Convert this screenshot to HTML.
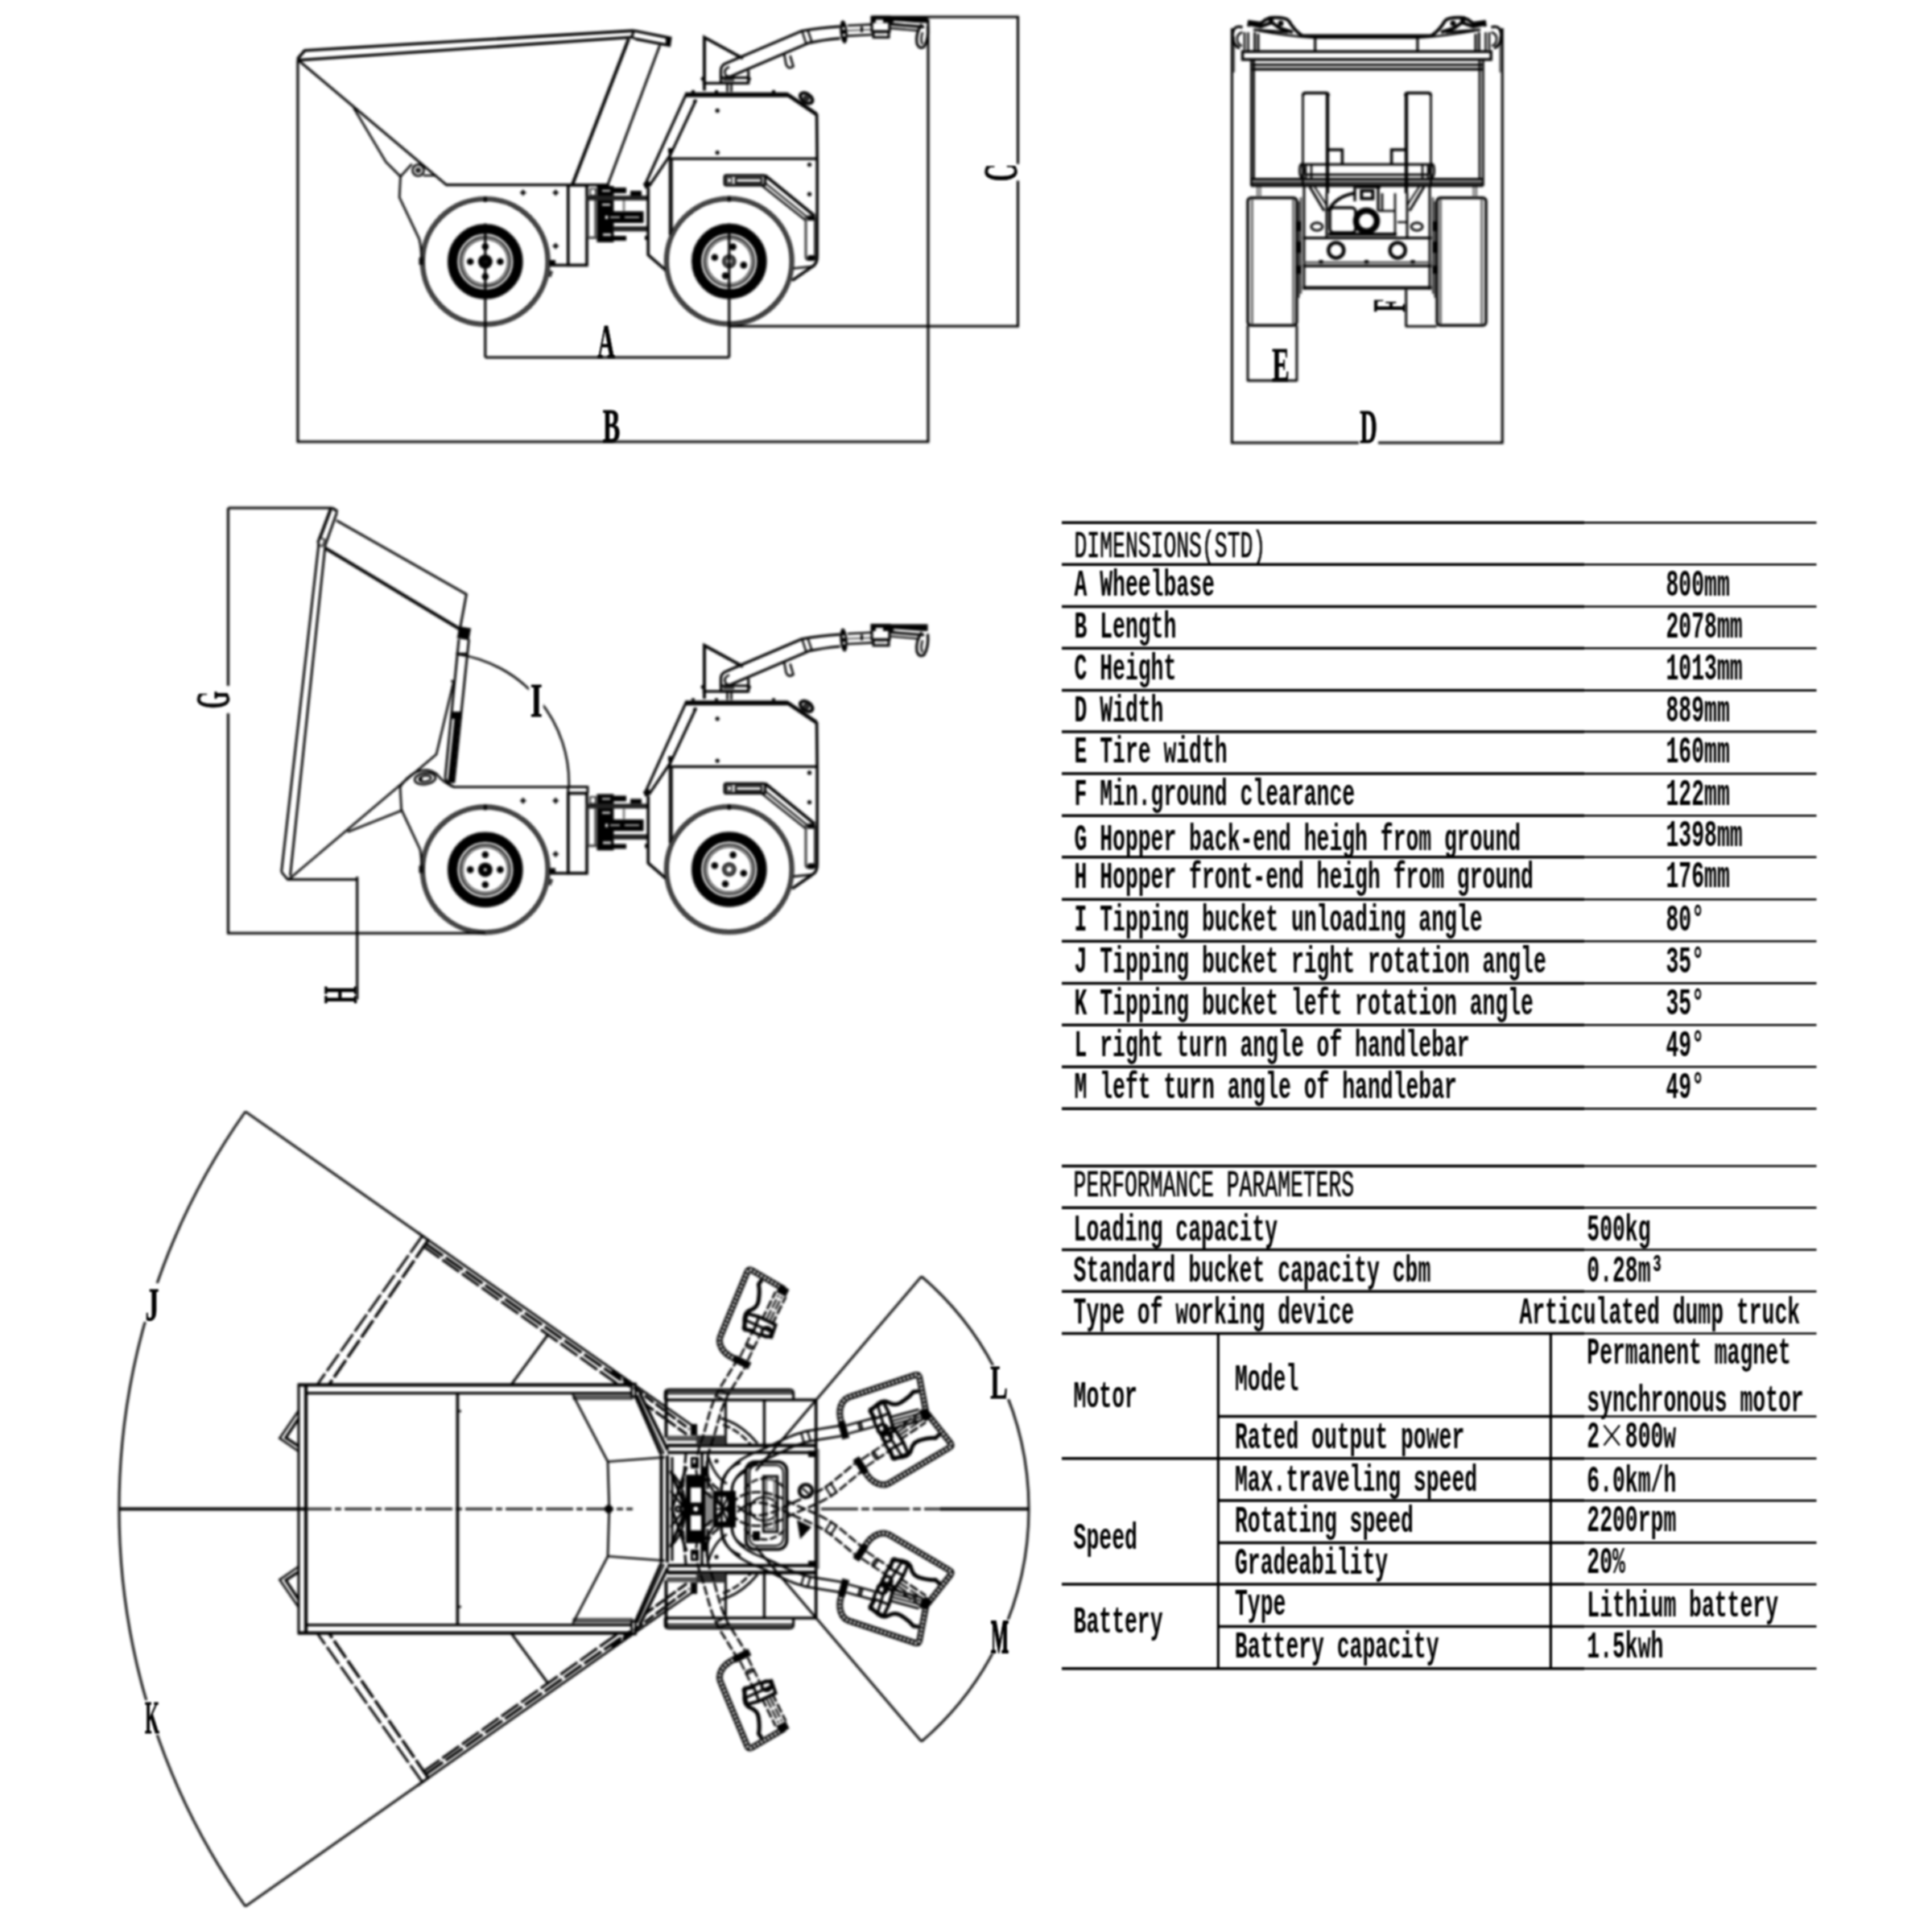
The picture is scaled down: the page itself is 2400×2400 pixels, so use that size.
<!DOCTYPE html>
<html><head><meta charset="utf-8"><title>Mini dumper dimensions</title>
<style>html,body{margin:0;padding:0;background:#fff}svg{display:block}text{fill:#000}</style></head>
<body>
<svg width="2400" height="2400" viewBox="0 0 2400 2400" stroke-linecap="butt" stroke-linejoin="miter">
<rect x="0" y="0" width="2400" height="2400" fill="#fff"/>
<g style="filter:blur(1px)">
<line x1="1319.0" y1="649.2" x2="1968.0" y2="649.2" stroke="#000" stroke-width="3.5" />
<line x1="1968.0" y1="649.2" x2="2256.5" y2="649.2" stroke="#000" stroke-width="2.6" />
<line x1="1319.0" y1="701.3" x2="1968.0" y2="701.3" stroke="#000" stroke-width="3.5" />
<line x1="1968.0" y1="701.3" x2="2256.5" y2="701.3" stroke="#000" stroke-width="2.6" />
<line x1="1319.0" y1="753.5" x2="1968.0" y2="753.5" stroke="#000" stroke-width="3.5" />
<line x1="1968.0" y1="753.5" x2="2256.5" y2="753.5" stroke="#000" stroke-width="2.6" />
<line x1="1319.0" y1="805.3" x2="1968.0" y2="805.3" stroke="#000" stroke-width="3.5" />
<line x1="1968.0" y1="805.3" x2="2256.5" y2="805.3" stroke="#000" stroke-width="2.6" />
<line x1="1319.0" y1="857.6" x2="1968.0" y2="857.6" stroke="#000" stroke-width="3.5" />
<line x1="1968.0" y1="857.6" x2="2256.5" y2="857.6" stroke="#000" stroke-width="2.6" />
<line x1="1319.0" y1="908.9" x2="1968.0" y2="908.9" stroke="#000" stroke-width="3.5" />
<line x1="1968.0" y1="908.9" x2="2256.5" y2="908.9" stroke="#000" stroke-width="2.6" />
<line x1="1319.0" y1="961.1" x2="1968.0" y2="961.1" stroke="#000" stroke-width="3.5" />
<line x1="1968.0" y1="961.1" x2="2256.5" y2="961.1" stroke="#000" stroke-width="2.6" />
<line x1="1319.0" y1="1013.3" x2="1968.0" y2="1013.3" stroke="#000" stroke-width="3.5" />
<line x1="1968.0" y1="1013.3" x2="2256.5" y2="1013.3" stroke="#000" stroke-width="2.6" />
<line x1="1319.0" y1="1064.8" x2="1968.0" y2="1064.8" stroke="#000" stroke-width="3.5" />
<line x1="1968.0" y1="1064.8" x2="2256.5" y2="1064.8" stroke="#000" stroke-width="2.6" />
<line x1="1319.0" y1="1117.3" x2="1968.0" y2="1117.3" stroke="#000" stroke-width="3.5" />
<line x1="1968.0" y1="1117.3" x2="2256.5" y2="1117.3" stroke="#000" stroke-width="2.6" />
<line x1="1319.0" y1="1169.2" x2="1968.0" y2="1169.2" stroke="#000" stroke-width="3.5" />
<line x1="1968.0" y1="1169.2" x2="2256.5" y2="1169.2" stroke="#000" stroke-width="2.6" />
<line x1="1319.0" y1="1221.4" x2="1968.0" y2="1221.4" stroke="#000" stroke-width="3.5" />
<line x1="1968.0" y1="1221.4" x2="2256.5" y2="1221.4" stroke="#000" stroke-width="2.6" />
<line x1="1319.0" y1="1273.3" x2="1968.0" y2="1273.3" stroke="#000" stroke-width="3.5" />
<line x1="1968.0" y1="1273.3" x2="2256.5" y2="1273.3" stroke="#000" stroke-width="2.6" />
<line x1="1319.0" y1="1325.2" x2="1968.0" y2="1325.2" stroke="#000" stroke-width="3.5" />
<line x1="1968.0" y1="1325.2" x2="2256.5" y2="1325.2" stroke="#000" stroke-width="2.6" />
<line x1="1319.0" y1="1377.3" x2="1968.0" y2="1377.3" stroke="#000" stroke-width="3.5" />
<line x1="1968.0" y1="1377.3" x2="2256.5" y2="1377.3" stroke="#000" stroke-width="2.6" />
<text transform="translate(1334.5,692.0) scale(0.5716,1)" font-family="Liberation Mono" font-size="46.21" font-weight="normal" text-anchor="start" xml:space="preserve" stroke="#000" stroke-width="0.7">DIMENSIONS(STD)</text>
<text transform="translate(1334.5,739.8) scale(0.5716,1)" font-family="Liberation Mono" font-size="46.21" font-weight="bold" text-anchor="start" xml:space="preserve" >A Wheelbase</text>
<text transform="translate(2069.5,739.8) scale(0.5716,1)" font-family="Liberation Mono" font-size="46.21" font-weight="bold" text-anchor="start" xml:space="preserve" >800mm</text>
<text transform="translate(1334.5,792.0) scale(0.5716,1)" font-family="Liberation Mono" font-size="46.21" font-weight="bold" text-anchor="start" xml:space="preserve" >B Length</text>
<text transform="translate(2069.5,792.0) scale(0.5716,1)" font-family="Liberation Mono" font-size="46.21" font-weight="bold" text-anchor="start" xml:space="preserve" >2078mm</text>
<text transform="translate(1334.5,843.8) scale(0.5716,1)" font-family="Liberation Mono" font-size="46.21" font-weight="bold" text-anchor="start" xml:space="preserve" >C Height</text>
<text transform="translate(2069.5,843.8) scale(0.5716,1)" font-family="Liberation Mono" font-size="46.21" font-weight="bold" text-anchor="start" xml:space="preserve" >1013mm</text>
<text transform="translate(1334.5,896.1) scale(0.5716,1)" font-family="Liberation Mono" font-size="46.21" font-weight="bold" text-anchor="start" xml:space="preserve" >D Width</text>
<text transform="translate(2069.5,896.1) scale(0.5716,1)" font-family="Liberation Mono" font-size="46.21" font-weight="bold" text-anchor="start" xml:space="preserve" >889mm</text>
<text transform="translate(1334.5,947.4) scale(0.5716,1)" font-family="Liberation Mono" font-size="46.21" font-weight="bold" text-anchor="start" xml:space="preserve" >E Tire width</text>
<text transform="translate(2069.5,947.4) scale(0.5716,1)" font-family="Liberation Mono" font-size="46.21" font-weight="bold" text-anchor="start" xml:space="preserve" >160mm</text>
<text transform="translate(1334.5,999.6) scale(0.5716,1)" font-family="Liberation Mono" font-size="46.21" font-weight="bold" text-anchor="start" xml:space="preserve" >F Min.ground clearance</text>
<text transform="translate(2069.5,999.6) scale(0.5716,1)" font-family="Liberation Mono" font-size="46.21" font-weight="bold" text-anchor="start" xml:space="preserve" >122mm</text>
<text transform="translate(1334.5,1055.8) scale(0.5716,1)" font-family="Liberation Mono" font-size="46.21" font-weight="bold" text-anchor="start" xml:space="preserve" >G Hopper back-end heigh from ground</text>
<text transform="translate(2069.5,1050.8) scale(0.5716,1)" font-family="Liberation Mono" font-size="46.21" font-weight="bold" text-anchor="start" xml:space="preserve" >1398mm</text>
<text transform="translate(1334.5,1103.0) scale(0.5716,1)" font-family="Liberation Mono" font-size="46.21" font-weight="bold" text-anchor="start" xml:space="preserve" >H Hopper front-end heigh from ground</text>
<text transform="translate(2069.5,1102.3) scale(0.5716,1)" font-family="Liberation Mono" font-size="46.21" font-weight="bold" text-anchor="start" xml:space="preserve" >176mm</text>
<text transform="translate(1334.5,1155.8) scale(0.5716,1)" font-family="Liberation Mono" font-size="46.21" font-weight="bold" text-anchor="start" xml:space="preserve" >I Tipping bucket unloading angle</text>
<text transform="translate(2069.5,1155.8) scale(0.5716,1)" font-family="Liberation Mono" font-size="46.21" font-weight="bold" text-anchor="start" xml:space="preserve" >80°</text>
<text transform="translate(1334.5,1207.7) scale(0.5716,1)" font-family="Liberation Mono" font-size="46.21" font-weight="bold" text-anchor="start" xml:space="preserve" >J Tipping bucket right rotation angle</text>
<text transform="translate(2069.5,1207.7) scale(0.5716,1)" font-family="Liberation Mono" font-size="46.21" font-weight="bold" text-anchor="start" xml:space="preserve" >35°</text>
<text transform="translate(1334.5,1259.9) scale(0.5716,1)" font-family="Liberation Mono" font-size="46.21" font-weight="bold" text-anchor="start" xml:space="preserve" >K Tipping bucket left rotation angle</text>
<text transform="translate(2069.5,1259.9) scale(0.5716,1)" font-family="Liberation Mono" font-size="46.21" font-weight="bold" text-anchor="start" xml:space="preserve" >35°</text>
<text transform="translate(1334.5,1311.8) scale(0.5716,1)" font-family="Liberation Mono" font-size="46.21" font-weight="bold" text-anchor="start" xml:space="preserve" >L right turn angle of handlebar</text>
<text transform="translate(2069.5,1311.8) scale(0.5716,1)" font-family="Liberation Mono" font-size="46.21" font-weight="bold" text-anchor="start" xml:space="preserve" >49°</text>
<text transform="translate(1334.5,1363.7) scale(0.5716,1)" font-family="Liberation Mono" font-size="46.21" font-weight="bold" text-anchor="start" xml:space="preserve" >M left turn angle of handlebar</text>
<text transform="translate(2069.5,1363.7) scale(0.5716,1)" font-family="Liberation Mono" font-size="46.21" font-weight="bold" text-anchor="start" xml:space="preserve" >49°</text>
<line x1="1319.0" y1="1448.5" x2="1968.0" y2="1448.5" stroke="#000" stroke-width="3.5" />
<line x1="1968.0" y1="1448.5" x2="2256.5" y2="1448.5" stroke="#000" stroke-width="2.6" />
<line x1="1319.0" y1="1500.2" x2="1968.0" y2="1500.2" stroke="#000" stroke-width="3.5" />
<line x1="1968.0" y1="1500.2" x2="2256.5" y2="1500.2" stroke="#000" stroke-width="2.6" />
<line x1="1319.0" y1="1552.5" x2="1968.0" y2="1552.5" stroke="#000" stroke-width="3.5" />
<line x1="1968.0" y1="1552.5" x2="2256.5" y2="1552.5" stroke="#000" stroke-width="2.6" />
<line x1="1319.0" y1="1604.3" x2="1968.0" y2="1604.3" stroke="#000" stroke-width="3.5" />
<line x1="1968.0" y1="1604.3" x2="2256.5" y2="1604.3" stroke="#000" stroke-width="2.6" />
<line x1="1319.0" y1="1656.5" x2="1968.0" y2="1656.5" stroke="#000" stroke-width="3.5" />
<line x1="1968.0" y1="1656.5" x2="2256.5" y2="1656.5" stroke="#000" stroke-width="2.6" />
<line x1="1513.3" y1="1759.5" x2="1968.0" y2="1759.5" stroke="#000" stroke-width="3.5" />
<line x1="1968.0" y1="1759.5" x2="2256.5" y2="1759.5" stroke="#000" stroke-width="2.6" />
<line x1="1319.0" y1="1811.8" x2="1968.0" y2="1811.8" stroke="#000" stroke-width="3.5" />
<line x1="1968.0" y1="1811.8" x2="2256.5" y2="1811.8" stroke="#000" stroke-width="2.6" />
<line x1="1513.3" y1="1864.1" x2="1968.0" y2="1864.1" stroke="#000" stroke-width="3.5" />
<line x1="1968.0" y1="1864.1" x2="2256.5" y2="1864.1" stroke="#000" stroke-width="2.6" />
<line x1="1513.3" y1="1916.4" x2="1968.0" y2="1916.4" stroke="#000" stroke-width="3.5" />
<line x1="1968.0" y1="1916.4" x2="2256.5" y2="1916.4" stroke="#000" stroke-width="2.6" />
<line x1="1319.0" y1="1968.1" x2="1968.0" y2="1968.1" stroke="#000" stroke-width="3.5" />
<line x1="1968.0" y1="1968.1" x2="2256.5" y2="1968.1" stroke="#000" stroke-width="2.6" />
<line x1="1513.3" y1="2020.4" x2="1968.0" y2="2020.4" stroke="#000" stroke-width="3.5" />
<line x1="1968.0" y1="2020.4" x2="2256.5" y2="2020.4" stroke="#000" stroke-width="2.6" />
<line x1="1319.0" y1="2072.7" x2="1968.0" y2="2072.7" stroke="#000" stroke-width="3.5" />
<line x1="1968.0" y1="2072.7" x2="2256.5" y2="2072.7" stroke="#000" stroke-width="2.6" />
<line x1="1513.3" y1="1656.5" x2="1513.3" y2="2072.7" stroke="#000" stroke-width="3.2" />
<line x1="1926.4" y1="1656.5" x2="1926.4" y2="2072.7" stroke="#000" stroke-width="3.2" />
<text transform="translate(1333.6,1485.9) scale(0.5716,1)" font-family="Liberation Mono" font-size="46.21" font-weight="normal" text-anchor="start" xml:space="preserve" stroke="#000" stroke-width="0.7">PERFORMANCE PARAMETERS</text>
<text transform="translate(1333.6,1541.2) scale(0.5716,1)" font-family="Liberation Mono" font-size="46.21" font-weight="bold" text-anchor="start" xml:space="preserve" >Loading capacity</text>
<text transform="translate(1971.3,1541.2) scale(0.5716,1)" font-family="Liberation Mono" font-size="46.21" font-weight="bold" text-anchor="start" xml:space="preserve" >500kg</text>
<text transform="translate(1333.6,1592.0) scale(0.5716,1)" font-family="Liberation Mono" font-size="46.21" font-weight="bold" text-anchor="start" xml:space="preserve" >Standard bucket capacity cbm</text>
<text transform="translate(1971.3,1592.0) scale(0.5716,1)" font-family="Liberation Mono" font-size="46.21" font-weight="bold" text-anchor="start" xml:space="preserve" >0.28m³</text>
<text transform="translate(1333.6,1643.8) scale(0.5716,1)" font-family="Liberation Mono" font-size="46.21" font-weight="bold" text-anchor="start" xml:space="preserve" >Type of working device</text>
<text transform="translate(1887.5,1643.8) scale(0.5716,1)" font-family="Liberation Mono" font-size="46.21" font-weight="bold" text-anchor="start" xml:space="preserve" >Articulated dump truck</text>
<text transform="translate(1333.6,1748.3) scale(0.5716,1)" font-family="Liberation Mono" font-size="46.21" font-weight="bold" text-anchor="start" xml:space="preserve" >Motor</text>
<text transform="translate(1534.0,1726.6) scale(0.5716,1)" font-family="Liberation Mono" font-size="46.21" font-weight="bold" text-anchor="start" xml:space="preserve" >Model</text>
<text transform="translate(1971.3,1694.0) scale(0.5716,1)" font-family="Liberation Mono" font-size="46.21" font-weight="bold" text-anchor="start" xml:space="preserve" >Permanent magnet</text>
<text transform="translate(1971.3,1752.5) scale(0.5716,1)" font-family="Liberation Mono" font-size="46.21" font-weight="bold" text-anchor="start" xml:space="preserve" >synchronous motor</text>
<text transform="translate(1534.0,1799.0) scale(0.5716,1)" font-family="Liberation Mono" font-size="46.21" font-weight="bold" text-anchor="start" xml:space="preserve" >Rated output power</text>
<text transform="translate(1971.3,1797.7) scale(0.5716,1)" font-family="Liberation Mono" font-size="46.21" font-weight="bold" text-anchor="start" xml:space="preserve" >2</text>
<text transform="translate(2018.8,1797.7) scale(0.5716,1)" font-family="Liberation Mono" font-size="46.21" font-weight="bold" text-anchor="start" xml:space="preserve" >800w</text>
<line x1="1992.5" y1="1770.5" x2="2012.0" y2="1795.5" stroke="#000" stroke-width="2.2" />
<line x1="2012.0" y1="1770.5" x2="1992.5" y2="1795.5" stroke="#000" stroke-width="2.2" />
<text transform="translate(1534.0,1851.8) scale(0.5716,1)" font-family="Liberation Mono" font-size="46.21" font-weight="bold" text-anchor="start" xml:space="preserve" >Max.traveling speed</text>
<text transform="translate(1971.3,1853.2) scale(0.5716,1)" font-family="Liberation Mono" font-size="46.21" font-weight="bold" text-anchor="start" xml:space="preserve" >6.0km/h</text>
<text transform="translate(1534.0,1902.6) scale(0.5716,1)" font-family="Liberation Mono" font-size="46.21" font-weight="bold" text-anchor="start" xml:space="preserve" >Rotating speed</text>
<text transform="translate(1971.3,1901.7) scale(0.5716,1)" font-family="Liberation Mono" font-size="46.21" font-weight="bold" text-anchor="start" xml:space="preserve" >2200rpm</text>
<text transform="translate(1333.6,1924.3) scale(0.5716,1)" font-family="Liberation Mono" font-size="46.21" font-weight="bold" text-anchor="start" xml:space="preserve" >Speed</text>
<text transform="translate(1534.0,1955.4) scale(0.5716,1)" font-family="Liberation Mono" font-size="46.21" font-weight="bold" text-anchor="start" xml:space="preserve" >Gradeability</text>
<text transform="translate(1971.3,1954.2) scale(0.5716,1)" font-family="Liberation Mono" font-size="46.21" font-weight="bold" text-anchor="start" xml:space="preserve" >20%</text>
<text transform="translate(1534.0,2006.1) scale(0.5716,1)" font-family="Liberation Mono" font-size="46.21" font-weight="bold" text-anchor="start" xml:space="preserve" >Type</text>
<text transform="translate(1971.3,2007.7) scale(0.5716,1)" font-family="Liberation Mono" font-size="46.21" font-weight="bold" text-anchor="start" xml:space="preserve" >Lithium battery</text>
<text transform="translate(1333.6,2027.8) scale(0.5716,1)" font-family="Liberation Mono" font-size="46.21" font-weight="bold" text-anchor="start" xml:space="preserve" >Battery</text>
<text transform="translate(1534.0,2058.9) scale(0.5716,1)" font-family="Liberation Mono" font-size="46.21" font-weight="bold" text-anchor="start" xml:space="preserve" >Battery capacity</text>
<text transform="translate(1971.3,2058.9) scale(0.5716,1)" font-family="Liberation Mono" font-size="46.21" font-weight="bold" text-anchor="start" xml:space="preserve" >1.5kwh</text>
</g>
<g style="filter:blur(1.5px)">
<rect x="705.8" y="230.0" width="23.2" height="99.4" rx="0" stroke="#000" stroke-width="3.65" fill="none" />
<line x1="683.0" y1="329.4" x2="706.0" y2="329.4" stroke="#000" stroke-width="3.45" />
<rect x="741.4" y="231" width="21" height="70" fill="#000"/>
<rect x="728" y="243" width="77" height="6" fill="#222"/>
<rect x="762" y="281" width="43" height="6.5" fill="#222"/>
<rect x="748" y="262.5" width="51.5" height="14.5" fill="#000"/>
<rect x="762" y="233" width="16" height="7" fill="#000"/>
<rect x="783" y="237" width="14" height="6" fill="#000"/>
<rect x="762" y="293" width="16" height="6" fill="#000"/>
<rect x="733.3" y="234.5" width="6.5" height="8.5" fill="#fff" stroke="#000" stroke-width="1.5"/>
<line x1="730.6" y1="249.0" x2="730.6" y2="295.3" stroke="#444" stroke-width="2.45" />
<line x1="739.5" y1="249.0" x2="739.5" y2="295.3" stroke="#444" stroke-width="2.45" />
<line x1="730.0" y1="295.3" x2="742.0" y2="295.3" stroke="#444" stroke-width="3.05" />
<rect x="752" y="268" width="3" height="4" fill="#fff"/>
<rect x="758" y="269" width="12" height="1.6" fill="#ddd"/>
<rect x="776" y="269" width="18" height="1.6" fill="#ddd"/>
<rect x="748" y="236" width="10" height="2" fill="#ddd"/>
<rect x="748" y="253" width="10" height="2.5" fill="#ddd"/>
<rect x="749" y="290" width="10" height="3" fill="#ddd"/>
<line x1="775.0" y1="249.0" x2="775.0" y2="262.0" stroke="#666" stroke-width="2.35" />
<path d="M805.2,233.0 L805.2,316.7 L829.0,337.5" stroke="#000" stroke-width="3.65" fill="none" />
<rect x="800" y="226" width="8" height="7" fill="#000" transform="rotate(-25 804 230)"/>
<rect x="801" y="293" width="4" height="5" fill="#000"/>
<line x1="852.7" y1="116.3" x2="801.5" y2="229.0" stroke="#000" stroke-width="3.25" />
<path d="M864.8,123.8 L833.1,191.8 L806.5,231.0" stroke="#000" stroke-width="3.25" fill="none" />
<line x1="851.0" y1="117.8" x2="978.5" y2="117.8" stroke="#000" stroke-width="6" />
<path d="M977.5,117.0 L1014.0,141.8" stroke="#000" stroke-width="4.85" fill="none" />
<path d="M1014.6,141 L1015.2,200 L1015.2,318 Q1015.5,328 1008.5,331.5 L984,348.5" stroke="#000" stroke-width="3.65" fill="none" />
<line x1="985.0" y1="333.5" x2="1009.0" y2="331.0" stroke="#000" stroke-width="2.65" />
<line x1="833.1" y1="197.0" x2="1015.0" y2="197.0" stroke="#000" stroke-width="3.25" />
<line x1="832.2" y1="187.0" x2="832.2" y2="292.0" stroke="#000" stroke-width="2.85" />
<line x1="834.6" y1="197.0" x2="834.6" y2="290.0" stroke="#000" stroke-width="2.25" />
<rect x="830" y="184" width="5.5" height="6" fill="#000"/>
<rect x="900.2" y="217.9" width="50.3" height="12.1" rx="2" stroke="#000" stroke-width="3.25" fill="none" />
<rect x="914.0" y="221.3" width="32.0" height="5.7" rx="0" stroke="#000" stroke-width="2.45" fill="none" />
<rect x="903" y="221" width="6" height="6" fill="#fff" stroke="#000" stroke-width="1.6"/>
<line x1="950.5" y1="217.9" x2="1012.0" y2="268.2" stroke="#000" stroke-width="3.85" />
<line x1="945.8" y1="230.0" x2="1000.8" y2="273.8" stroke="#000" stroke-width="2.45" />
<line x1="949.0" y1="226.0" x2="1004.0" y2="270.5" stroke="#000" stroke-width="2.25" />
<rect x="1001.0" y="269.0" width="11.4" height="53.5" rx="3" stroke="#333" stroke-width="2.85" fill="none" />
<rect x="1003" y="268" width="9" height="6" fill="#000"/>
<rect x="1003" y="317" width="10" height="7" fill="#000" rx="3"/>
<circle cx="891.2" cy="137.4" r="2.6" stroke="#000" stroke-width="0" fill="#000" />
<circle cx="891.2" cy="189.6" r="2.6" stroke="#000" stroke-width="0" fill="#000" />
<circle cx="1005.5" cy="204.5" r="2.6" stroke="#000" stroke-width="0" fill="#000" />
<circle cx="1005.5" cy="241.2" r="2.6" stroke="#000" stroke-width="0" fill="#000" />
<rect x="859" y="112" width="4" height="3" fill="#000"/>
<rect x="888" y="112" width="4" height="3" fill="#000"/>
<rect x="959" y="112" width="4" height="3" fill="#000"/>
<circle cx="863.0" cy="126.0" r="2.2" stroke="#000" stroke-width="0" fill="#000" />
<ellipse cx="1001.7" cy="121.9" rx="8.5" ry="5.2" stroke="#000" stroke-width="4.25" fill="none" transform="rotate(35 1001.7 121.9)" />
<ellipse cx="1001.7" cy="121.9" rx="3.0" ry="1.6" stroke="#000" stroke-width="2.25" fill="none" transform="rotate(35 1001.7 121.9)" />
<path d="M875.0,112.5 L875.0,46.4 L922.9,72.6" stroke="#000" stroke-width="3.85" fill="none" />
<line x1="872.8" y1="103.4" x2="929.7" y2="103.4" stroke="#000" stroke-width="3.25" />
<circle cx="873.0" cy="98.0" r="2.4" stroke="#000" stroke-width="0" fill="#000" />
<rect x="895.5" y="96.5" width="34.2" height="6.9" rx="0" stroke="#000" stroke-width="3.05" fill="none" />
<line x1="929.7" y1="87.4" x2="929.7" y2="103.4" stroke="#000" stroke-width="3.05" />
<circle cx="931.0" cy="98.0" r="2.0" stroke="#000" stroke-width="0" fill="#000" />
<line x1="903.5" y1="103.4" x2="903.5" y2="114.0" stroke="#000" stroke-width="2.65" />
<line x1="908.5" y1="103.4" x2="908.5" y2="114.0" stroke="#000" stroke-width="2.65" />
<rect x="898" y="97.5" width="14" height="3.2" fill="#333"/>
<path d="M895.5,97 L895.5,87.5 Q895.5,81.5 901,79 L995.8,38.5 Q1018,34.5 1043.6,32.8" stroke="#000" stroke-width="3.25" fill="none" />
<path d="M909.2,94.3 L1004.9,53.3 Q1022,49.5 1043.6,47.6" stroke="#000" stroke-width="3.25" fill="none" />
<path d="M909.2,94.3 Q902,97 900.5,91 Q899.5,85.5 906,83" stroke="#000" stroke-width="2.65" fill="none" />
<line x1="996.5" y1="38.8" x2="1001.5" y2="54.5" stroke="#000" stroke-width="2.45" />
<line x1="1003.5" y1="37.5" x2="1008.5" y2="52.5" stroke="#000" stroke-width="2.45" />
<path d="M974,66 L976.5,80 Q979.5,87 985.5,82.5 L981.5,69" stroke="#000" stroke-width="2.65" fill="none" />
<ellipse cx="1048.1" cy="39.6" rx="4.6" ry="14.5" stroke="#000" stroke-width="0" fill="#000" transform="rotate(-5 1048.1 39.6)" />
<rect x="1046.5" y="34" width="3" height="3" fill="#fff"/><rect x="1047" y="42" width="3" height="3" fill="#fff"/>
<line x1="1053.0" y1="31.8" x2="1083.0" y2="30.4" stroke="#000" stroke-width="2.65" />
<line x1="1053.0" y1="44.6" x2="1085.0" y2="43.0" stroke="#000" stroke-width="2.65" />
<line x1="1053.0" y1="38.0" x2="1083.0" y2="36.8" stroke="#555" stroke-width="2.05" />
<rect x="1069" y="33" width="3" height="7" fill="#000"/>
<rect x="1084" y="20" width="68.5" height="8.5" fill="#000"/>
<rect x="1083.0" y="21.0" width="22.0" height="18.0" rx="0" stroke="#000" stroke-width="3.05" fill="none" />
<rect x="1088" y="24.5" width="9" height="4" fill="#fff"/>
<rect x="1085.0" y="39.6" width="19.0" height="6.8" rx="0" stroke="#000" stroke-width="3.05" fill="none" />
<rect x="1089" y="41.5" width="10" height="2" fill="#ccc"/>
<path d="M1105,30 L1148,33.5" stroke="#000" stroke-width="3.45" fill="none" />
<path d="M1105,35 L1140,38" stroke="#000" stroke-width="2.45" fill="none" />
<path d="M1110,27 L1150,30" stroke="#fff" stroke-width="2.25" fill="none" />
<path d="M1145,30 Q1137,42 1139,54 Q1142,62 1148,58 Q1154,48 1152.5,32" stroke="#000" stroke-width="3.25" fill="none" />
<path d="M1146,40 Q1143,50 1146,55" stroke="#000" stroke-width="2.45" fill="none" />
<circle cx="602.8" cy="325.0" r="79.6" stroke="#000" stroke-width="2.45" fill="none" />
<circle cx="602.8" cy="325.0" r="76.2" stroke="#000" stroke-width="2.45" fill="none" />
<circle cx="602.8" cy="325.0" r="78.0" stroke="#555" stroke-width="3.05" fill="none" />
<circle cx="602.8" cy="325.0" r="40.6" stroke="#000" stroke-width="12.4" fill="none" />
<circle cx="602.8" cy="325.0" r="31.0" stroke="#000" stroke-width="2.15" fill="none" />
<circle cx="602.8" cy="325.0" r="28.0" stroke="#444" stroke-width="1.85" fill="none" />
<circle cx="621.4" cy="325.0" r="4.3" stroke="#000" stroke-width="0" fill="#000" />
<circle cx="602.8" cy="343.6" r="4.3" stroke="#000" stroke-width="0" fill="#000" />
<circle cx="584.2" cy="325.0" r="4.3" stroke="#000" stroke-width="0" fill="#000" />
<circle cx="602.8" cy="306.4" r="4.3" stroke="#000" stroke-width="0" fill="#000" />
<circle cx="602.8" cy="325.0" r="9.0" stroke="#000" stroke-width="0" fill="#000" />
<circle cx="602.8" cy="325.0" r="1.8" stroke="#000" stroke-width="0" fill="#fff" />
<line x1="602.8" y1="244.0" x2="602.8" y2="251.0" stroke="#000" stroke-width="3.85" />
<circle cx="905.8" cy="324.6" r="79.6" stroke="#000" stroke-width="2.45" fill="none" />
<circle cx="905.8" cy="324.6" r="76.2" stroke="#000" stroke-width="2.45" fill="none" />
<circle cx="905.8" cy="324.6" r="78.0" stroke="#555" stroke-width="3.05" fill="none" />
<circle cx="905.8" cy="324.6" r="40.6" stroke="#000" stroke-width="12.4" fill="none" />
<circle cx="905.8" cy="324.6" r="31.0" stroke="#000" stroke-width="2.15" fill="none" />
<circle cx="905.8" cy="324.6" r="28.0" stroke="#444" stroke-width="1.85" fill="none" />
<circle cx="923.8" cy="329.4" r="4.3" stroke="#000" stroke-width="0" fill="#000" />
<circle cx="901.0" cy="342.6" r="4.3" stroke="#000" stroke-width="0" fill="#000" />
<circle cx="887.8" cy="319.8" r="4.3" stroke="#000" stroke-width="0" fill="#000" />
<circle cx="910.6" cy="306.6" r="4.3" stroke="#000" stroke-width="0" fill="#000" />
<circle cx="905.8" cy="324.6" r="7.5" stroke="#000" stroke-width="2.45" fill="none" />
<circle cx="905.8" cy="324.6" r="4.5" stroke="#000" stroke-width="2.05" fill="none" />
<line x1="905.8" y1="243.6" x2="905.8" y2="250.6" stroke="#000" stroke-width="3.85" />
<rect x="520.5" y="320" width="5" height="9" fill="#000"/>
<rect x="682" y="323" width="8" height="6" fill="#000"/>
<rect x="681" y="336" width="5" height="8" fill="#333" transform="rotate(20 683 340)"/>
<line x1="646.3" y1="239.3" x2="653.3" y2="239.3" stroke="#000" stroke-width="2.65" />
<line x1="649.8" y1="235.8" x2="649.8" y2="242.8" stroke="#000" stroke-width="2.65" />
<line x1="686.7" y1="239.3" x2="693.7" y2="239.3" stroke="#000" stroke-width="2.65" />
<line x1="690.2" y1="235.8" x2="690.2" y2="242.8" stroke="#000" stroke-width="2.65" />
<line x1="686.7" y1="305.6" x2="693.7" y2="305.6" stroke="#000" stroke-width="2.65" />
<line x1="690.2" y1="302.1" x2="690.2" y2="309.1" stroke="#000" stroke-width="2.65" />
<path d="M369.4,73.5 L378.5,62.7 L787.4,38.1" stroke="#000" stroke-width="3.65" fill="none" />
<line x1="370.7" y1="74.8" x2="784.8" y2="46.2" stroke="#000" stroke-width="3.65" />
<path d="M787.4,38.1 L832.7,47.2 L831.4,56.5 L790.0,48.5" stroke="#000" stroke-width="3.45" fill="none" />
<path d="M787.4,38.1 L784.8,46.0 L790.0,48.5" stroke="#000" stroke-width="3.05" fill="none" />
<rect x="827" y="48" width="5.5" height="7" fill="#000"/>
<line x1="819.7" y1="56.2" x2="755.0" y2="229.6" stroke="#000" stroke-width="2.85" />
<line x1="780.9" y1="48.5" x2="711.0" y2="229.6" stroke="#000" stroke-width="4.05" />
<line x1="553.5" y1="229.6" x2="757.0" y2="229.6" stroke="#000" stroke-width="3.25" />
<line x1="370.7" y1="74.8" x2="554.5" y2="229.6" stroke="#000" stroke-width="3.05" />
<path d="M439.3,133.9 L479.4,201.2 L497.5,219.3 L511.7,203.7" stroke="#000" stroke-width="2.65" fill="none" />
<path d="M497.5,219.3 L496.2,245.2 L520.8,296.9 Q523.5,308 523.5,322" stroke="#000" stroke-width="2.65" fill="none" />
<circle cx="519.5" cy="211.5" r="7.0" stroke="#000" stroke-width="2.65" fill="none" />
<circle cx="519.5" cy="211.5" r="3.6" stroke="#000" stroke-width="0" fill="#222" />
<line x1="526.0" y1="218.0" x2="540.2" y2="218.0" stroke="#000" stroke-width="2.45" />
<path d="M369.9,74.0 L369.9,548.7 L1153.0,548.7 L1153.0,23.7" stroke="#000" stroke-width="3.05" fill="none" />
<line x1="602.8" y1="277.6" x2="602.8" y2="444.0" stroke="#000" stroke-width="3.05" />
<line x1="905.8" y1="277.6" x2="905.8" y2="444.0" stroke="#000" stroke-width="3.05" />
<line x1="602.8" y1="444.0" x2="905.8" y2="444.0" stroke="#000" stroke-width="3.05" />
<path d="M1084.6,20.9 L1264.5,20.9 L1264.5,405.3 L905.8,405.3" stroke="#000" stroke-width="3.05" fill="none" />
<rect x="1258" y="203.8" width="12" height="20.6" fill="#fff"/>
<rect x="744" y="440" width="18" height="8" fill="#fff" opacity="0"/>
<g transform="translate(0,755.4)">
<rect x="705.8" y="230.0" width="23.2" height="99.4" rx="0" stroke="#000" stroke-width="3.65" fill="none" />
<line x1="683.0" y1="329.4" x2="706.0" y2="329.4" stroke="#000" stroke-width="3.45" />
<rect x="741.4" y="231" width="21" height="70" fill="#000"/>
<rect x="728" y="243" width="77" height="6" fill="#222"/>
<rect x="762" y="281" width="43" height="6.5" fill="#222"/>
<rect x="748" y="262.5" width="51.5" height="14.5" fill="#000"/>
<rect x="762" y="233" width="16" height="7" fill="#000"/>
<rect x="783" y="237" width="14" height="6" fill="#000"/>
<rect x="762" y="293" width="16" height="6" fill="#000"/>
<rect x="733.3" y="234.5" width="6.5" height="8.5" fill="#fff" stroke="#000" stroke-width="1.5"/>
<line x1="730.6" y1="249.0" x2="730.6" y2="295.3" stroke="#444" stroke-width="2.45" />
<line x1="739.5" y1="249.0" x2="739.5" y2="295.3" stroke="#444" stroke-width="2.45" />
<line x1="730.0" y1="295.3" x2="742.0" y2="295.3" stroke="#444" stroke-width="3.05" />
<rect x="752" y="268" width="3" height="4" fill="#fff"/>
<rect x="758" y="269" width="12" height="1.6" fill="#ddd"/>
<rect x="776" y="269" width="18" height="1.6" fill="#ddd"/>
<rect x="748" y="236" width="10" height="2" fill="#ddd"/>
<rect x="748" y="253" width="10" height="2.5" fill="#ddd"/>
<rect x="749" y="290" width="10" height="3" fill="#ddd"/>
<line x1="775.0" y1="249.0" x2="775.0" y2="262.0" stroke="#666" stroke-width="2.35" />
<path d="M805.2,233.0 L805.2,316.7 L829.0,337.5" stroke="#000" stroke-width="3.65" fill="none" />
<rect x="800" y="226" width="8" height="7" fill="#000" transform="rotate(-25 804 230)"/>
<rect x="801" y="293" width="4" height="5" fill="#000"/>
<line x1="852.7" y1="116.3" x2="801.5" y2="229.0" stroke="#000" stroke-width="3.25" />
<path d="M864.8,123.8 L833.1,191.8 L806.5,231.0" stroke="#000" stroke-width="3.25" fill="none" />
<line x1="851.0" y1="117.8" x2="978.5" y2="117.8" stroke="#000" stroke-width="6" />
<path d="M977.5,117.0 L1014.0,141.8" stroke="#000" stroke-width="4.85" fill="none" />
<path d="M1014.6,141 L1015.2,200 L1015.2,318 Q1015.5,328 1008.5,331.5 L984,348.5" stroke="#000" stroke-width="3.65" fill="none" />
<line x1="985.0" y1="333.5" x2="1009.0" y2="331.0" stroke="#000" stroke-width="2.65" />
<line x1="833.1" y1="197.0" x2="1015.0" y2="197.0" stroke="#000" stroke-width="3.25" />
<line x1="832.2" y1="187.0" x2="832.2" y2="292.0" stroke="#000" stroke-width="2.85" />
<line x1="834.6" y1="197.0" x2="834.6" y2="290.0" stroke="#000" stroke-width="2.25" />
<rect x="830" y="184" width="5.5" height="6" fill="#000"/>
<rect x="900.2" y="217.9" width="50.3" height="12.1" rx="2" stroke="#000" stroke-width="3.25" fill="none" />
<rect x="914.0" y="221.3" width="32.0" height="5.7" rx="0" stroke="#000" stroke-width="2.45" fill="none" />
<rect x="903" y="221" width="6" height="6" fill="#fff" stroke="#000" stroke-width="1.6"/>
<line x1="950.5" y1="217.9" x2="1012.0" y2="268.2" stroke="#000" stroke-width="3.85" />
<line x1="945.8" y1="230.0" x2="1000.8" y2="273.8" stroke="#000" stroke-width="2.45" />
<line x1="949.0" y1="226.0" x2="1004.0" y2="270.5" stroke="#000" stroke-width="2.25" />
<rect x="1001.0" y="269.0" width="11.4" height="53.5" rx="3" stroke="#333" stroke-width="2.85" fill="none" />
<rect x="1003" y="268" width="9" height="6" fill="#000"/>
<rect x="1003" y="317" width="10" height="7" fill="#000" rx="3"/>
<circle cx="891.2" cy="137.4" r="2.6" stroke="#000" stroke-width="0" fill="#000" />
<circle cx="891.2" cy="189.6" r="2.6" stroke="#000" stroke-width="0" fill="#000" />
<circle cx="1005.5" cy="204.5" r="2.6" stroke="#000" stroke-width="0" fill="#000" />
<circle cx="1005.5" cy="241.2" r="2.6" stroke="#000" stroke-width="0" fill="#000" />
<rect x="859" y="112" width="4" height="3" fill="#000"/>
<rect x="888" y="112" width="4" height="3" fill="#000"/>
<rect x="959" y="112" width="4" height="3" fill="#000"/>
<circle cx="863.0" cy="126.0" r="2.2" stroke="#000" stroke-width="0" fill="#000" />
<ellipse cx="1001.7" cy="121.9" rx="8.5" ry="5.2" stroke="#000" stroke-width="4.25" fill="none" transform="rotate(35 1001.7 121.9)" />
<ellipse cx="1001.7" cy="121.9" rx="3.0" ry="1.6" stroke="#000" stroke-width="2.25" fill="none" transform="rotate(35 1001.7 121.9)" />
<path d="M875.0,112.5 L875.0,46.4 L922.9,72.6" stroke="#000" stroke-width="3.85" fill="none" />
<line x1="872.8" y1="103.4" x2="929.7" y2="103.4" stroke="#000" stroke-width="3.25" />
<circle cx="873.0" cy="98.0" r="2.4" stroke="#000" stroke-width="0" fill="#000" />
<rect x="895.5" y="96.5" width="34.2" height="6.9" rx="0" stroke="#000" stroke-width="3.05" fill="none" />
<line x1="929.7" y1="87.4" x2="929.7" y2="103.4" stroke="#000" stroke-width="3.05" />
<circle cx="931.0" cy="98.0" r="2.0" stroke="#000" stroke-width="0" fill="#000" />
<line x1="903.5" y1="103.4" x2="903.5" y2="114.0" stroke="#000" stroke-width="2.65" />
<line x1="908.5" y1="103.4" x2="908.5" y2="114.0" stroke="#000" stroke-width="2.65" />
<rect x="898" y="97.5" width="14" height="3.2" fill="#333"/>
<path d="M895.5,97 L895.5,87.5 Q895.5,81.5 901,79 L995.8,38.5 Q1018,34.5 1043.6,32.8" stroke="#000" stroke-width="3.25" fill="none" />
<path d="M909.2,94.3 L1004.9,53.3 Q1022,49.5 1043.6,47.6" stroke="#000" stroke-width="3.25" fill="none" />
<path d="M909.2,94.3 Q902,97 900.5,91 Q899.5,85.5 906,83" stroke="#000" stroke-width="2.65" fill="none" />
<line x1="996.5" y1="38.8" x2="1001.5" y2="54.5" stroke="#000" stroke-width="2.45" />
<line x1="1003.5" y1="37.5" x2="1008.5" y2="52.5" stroke="#000" stroke-width="2.45" />
<path d="M974,66 L976.5,80 Q979.5,87 985.5,82.5 L981.5,69" stroke="#000" stroke-width="2.65" fill="none" />
<ellipse cx="1048.1" cy="39.6" rx="4.6" ry="14.5" stroke="#000" stroke-width="0" fill="#000" transform="rotate(-5 1048.1 39.6)" />
<rect x="1046.5" y="34" width="3" height="3" fill="#fff"/><rect x="1047" y="42" width="3" height="3" fill="#fff"/>
<line x1="1053.0" y1="31.8" x2="1083.0" y2="30.4" stroke="#000" stroke-width="2.65" />
<line x1="1053.0" y1="44.6" x2="1085.0" y2="43.0" stroke="#000" stroke-width="2.65" />
<line x1="1053.0" y1="38.0" x2="1083.0" y2="36.8" stroke="#555" stroke-width="2.05" />
<rect x="1069" y="33" width="3" height="7" fill="#000"/>
<rect x="1084" y="20" width="68.5" height="8.5" fill="#000"/>
<rect x="1083.0" y="21.0" width="22.0" height="18.0" rx="0" stroke="#000" stroke-width="3.05" fill="none" />
<rect x="1088" y="24.5" width="9" height="4" fill="#fff"/>
<rect x="1085.0" y="39.6" width="19.0" height="6.8" rx="0" stroke="#000" stroke-width="3.05" fill="none" />
<rect x="1089" y="41.5" width="10" height="2" fill="#ccc"/>
<path d="M1105,30 L1148,33.5" stroke="#000" stroke-width="3.45" fill="none" />
<path d="M1105,35 L1140,38" stroke="#000" stroke-width="2.45" fill="none" />
<path d="M1110,27 L1150,30" stroke="#fff" stroke-width="2.25" fill="none" />
<path d="M1145,30 Q1137,42 1139,54 Q1142,62 1148,58 Q1154,48 1152.5,32" stroke="#000" stroke-width="3.25" fill="none" />
<path d="M1146,40 Q1143,50 1146,55" stroke="#000" stroke-width="2.45" fill="none" />
<circle cx="602.8" cy="325.0" r="79.6" stroke="#000" stroke-width="2.45" fill="none" />
<circle cx="602.8" cy="325.0" r="76.2" stroke="#000" stroke-width="2.45" fill="none" />
<circle cx="602.8" cy="325.0" r="78.0" stroke="#555" stroke-width="3.05" fill="none" />
<circle cx="602.8" cy="325.0" r="40.6" stroke="#000" stroke-width="12.4" fill="none" />
<circle cx="602.8" cy="325.0" r="31.0" stroke="#000" stroke-width="2.15" fill="none" />
<circle cx="602.8" cy="325.0" r="28.0" stroke="#444" stroke-width="1.85" fill="none" />
<circle cx="621.4" cy="325.0" r="4.3" stroke="#000" stroke-width="0" fill="#000" />
<circle cx="602.8" cy="343.6" r="4.3" stroke="#000" stroke-width="0" fill="#000" />
<circle cx="584.2" cy="325.0" r="4.3" stroke="#000" stroke-width="0" fill="#000" />
<circle cx="602.8" cy="306.4" r="4.3" stroke="#000" stroke-width="0" fill="#000" />
<circle cx="602.8" cy="325.0" r="9.0" stroke="#000" stroke-width="0" fill="#000" />
<circle cx="602.8" cy="325.0" r="1.8" stroke="#000" stroke-width="0" fill="#fff" />
<line x1="602.8" y1="244.0" x2="602.8" y2="251.0" stroke="#000" stroke-width="3.85" />
<circle cx="905.8" cy="324.6" r="79.6" stroke="#000" stroke-width="2.45" fill="none" />
<circle cx="905.8" cy="324.6" r="76.2" stroke="#000" stroke-width="2.45" fill="none" />
<circle cx="905.8" cy="324.6" r="78.0" stroke="#555" stroke-width="3.05" fill="none" />
<circle cx="905.8" cy="324.6" r="40.6" stroke="#000" stroke-width="12.4" fill="none" />
<circle cx="905.8" cy="324.6" r="31.0" stroke="#000" stroke-width="2.15" fill="none" />
<circle cx="905.8" cy="324.6" r="28.0" stroke="#444" stroke-width="1.85" fill="none" />
<circle cx="923.8" cy="329.4" r="4.3" stroke="#000" stroke-width="0" fill="#000" />
<circle cx="901.0" cy="342.6" r="4.3" stroke="#000" stroke-width="0" fill="#000" />
<circle cx="887.8" cy="319.8" r="4.3" stroke="#000" stroke-width="0" fill="#000" />
<circle cx="910.6" cy="306.6" r="4.3" stroke="#000" stroke-width="0" fill="#000" />
<circle cx="905.8" cy="324.6" r="7.5" stroke="#000" stroke-width="2.45" fill="none" />
<circle cx="905.8" cy="324.6" r="4.5" stroke="#000" stroke-width="2.05" fill="none" />
<line x1="905.8" y1="243.6" x2="905.8" y2="250.6" stroke="#000" stroke-width="3.85" />
<rect x="520.5" y="320" width="5" height="9" fill="#000"/>
<rect x="682" y="323" width="8" height="6" fill="#000"/>
<rect x="681" y="336" width="5" height="8" fill="#333" transform="rotate(20 683 340)"/>
<line x1="646.3" y1="239.3" x2="653.3" y2="239.3" stroke="#000" stroke-width="2.65" />
<line x1="649.8" y1="235.8" x2="649.8" y2="242.8" stroke="#000" stroke-width="2.65" />
<line x1="686.7" y1="239.3" x2="693.7" y2="239.3" stroke="#000" stroke-width="2.65" />
<line x1="690.2" y1="235.8" x2="690.2" y2="242.8" stroke="#000" stroke-width="2.65" />
<line x1="686.7" y1="305.6" x2="693.7" y2="305.6" stroke="#000" stroke-width="2.65" />
<line x1="690.2" y1="302.1" x2="690.2" y2="309.1" stroke="#000" stroke-width="2.65" />
</g>
<path d="M497.1,977.6 L498.6,1005.6 L521.9,1055.3 Q523.5,1064 523.5,1077" stroke="#000" stroke-width="2.65" fill="none" />
<line x1="431.9" y1="1033.5" x2="498.6" y2="1007.1" stroke="#000" stroke-width="2.65" />
<path d="M497.1,977.6 Q505,965 517,959 Q532,953 543,962 Q550,972 563.9,977.6 L730,977.6" stroke="#000" stroke-width="2.65" fill="none" />
<ellipse cx="528.1" cy="967.3" rx="13.0" ry="7.0" stroke="#000" stroke-width="2.65" fill="none" transform="rotate(-8 528.1 967.3)" />
<ellipse cx="528.1" cy="967.3" rx="7.5" ry="3.6" stroke="#000" stroke-width="2.45" fill="none" transform="rotate(-8 528.1 967.3)" />
<circle cx="523.0" cy="968.0" r="2.0" stroke="#000" stroke-width="0" fill="#000" />
<line x1="705.8" y1="977.6" x2="705.8" y2="1084.8" stroke="#000" stroke-width="2.85" />
<path d="M706.0,977.6 L730.0,977.6 L730.0,985.5" stroke="#000" stroke-width="2.85" fill="none" />
<line x1="283.4" y1="631.0" x2="413.2" y2="631.0" stroke="#000" stroke-width="3.05" />
<path d="M413.2,631.0 L419.4,635.7" stroke="#000" stroke-width="3.45" fill="none" />
<line x1="411.0" y1="632.0" x2="395.0" y2="674.5" stroke="#000" stroke-width="3.85" />
<line x1="418.5" y1="636.5" x2="403.5" y2="679.0" stroke="#000" stroke-width="2.85" />
<rect x="395" y="671" width="9" height="6" fill="#fff" stroke="#000" stroke-width="1.6" transform="rotate(-70 399 674)"/>
<line x1="396.1" y1="674.5" x2="349.6" y2="1083.2" stroke="#000" stroke-width="2.85" />
<line x1="403.9" y1="679.2" x2="360.5" y2="1088.0" stroke="#000" stroke-width="2.85" />
<path d="M349.6,1083.2 L357.3,1092.5 L360.4,1091.0" stroke="#000" stroke-width="2.85" fill="none" />
<path d="M417.9,646.6 L579.4,738.2 L571.6,780.1" stroke="#000" stroke-width="2.85" fill="none" />
<line x1="403.9" y1="680.7" x2="571.6" y2="781.7" stroke="#000" stroke-width="4.25" />
<rect x="569" y="779" width="15" height="15" fill="#000" transform="rotate(10 576 786)"/>
<line x1="570.0" y1="794.0" x2="553.0" y2="966.5" stroke="#000" stroke-width="2.85" />
<line x1="582.5" y1="794.0" x2="563.9" y2="972.7" stroke="#000" stroke-width="2.85" />
<line x1="566.5" y1="812.0" x2="581.0" y2="812.0" stroke="#000" stroke-width="2.45" />
<line x1="568.5" y1="885.7" x2="559.5" y2="972.7" stroke="#000" stroke-width="6.5" />
<rect x="561.5" y="884" width="12" height="9" fill="#000"/>
<path d="M563.9,845.3 L542.1,937.0 L360.4,1091.0" stroke="#000" stroke-width="2.65" fill="none" />
<line x1="560.0" y1="846.0" x2="566.0" y2="846.0" stroke="#000" stroke-width="2.25" />
<path d="M553,966.5 Q556,975 563.9,977.6" stroke="#000" stroke-width="3.05" fill="none" />
<path d="M568.5,812.7 A161.5,161.5 0 0 1 706.7,977.6" stroke="#000" stroke-width="2.65" fill="none" />
<rect x="657" y="851" width="18" height="40" fill="#fff"/>
<path d="M283.4,631.0 L283.4,1159.3 L602.7,1159.3" stroke="#000" stroke-width="3.05" fill="none" />
<path d="M357.3,1092.5 L443.7,1092.5" stroke="#000" stroke-width="3.05" fill="none" />
<line x1="443.7" y1="1089.0" x2="443.7" y2="1241.6" stroke="#000" stroke-width="3.05" />
<rect x="278" y="852" width="10" height="34" fill="#fff"/>
<path d="M1530.4,35.0 L1530.4,550.0 L1866.3,550.0 L1866.3,35.0" stroke="#000" stroke-width="3.05" fill="none" />
<rect x="1688" y="545" width="24" height="10" fill="#fff"/>
<line x1="1533.0" y1="45.0" x2="1533.0" y2="90.0" stroke="#555" stroke-width="2.25" />
<line x1="1863.5" y1="45.0" x2="1863.5" y2="90.0" stroke="#555" stroke-width="2.25" />
<line x1="1617.4" y1="44.3" x2="1778.3" y2="44.3" stroke="#000" stroke-width="3.85" />
<line x1="1633.7" y1="47.0" x2="1760.9" y2="47.0" stroke="#000" stroke-width="2.45" />
<line x1="1633.7" y1="44.0" x2="1633.7" y2="64.0" stroke="#000" stroke-width="3.05" />
<line x1="1760.9" y1="44.0" x2="1760.9" y2="64.0" stroke="#000" stroke-width="3.05" />
<path d="M1617.4,44.3 Q1608,38 1601,26 Q1597,21 1578,22 Q1572,24 1566,29 L1552,27 L1551,33" stroke="#000" stroke-width="4.05" fill="none" />
<path d="M1778.3,44.3 Q1788,38 1795,26 Q1799,21 1818,22 Q1824,24 1830,29 L1844,27 L1845,33" stroke="#000" stroke-width="4.05" fill="none" />
<path d="M1633.7,47 Q1600,45 1563,38" stroke="#000" stroke-width="2.45" fill="none" />
<path d="M1760.9,47 Q1794,45 1833,38" stroke="#000" stroke-width="2.45" fill="none" />
<path d="M1552.0,30 L1566.0,33 L1580.0,28 L1590.0,35 L1606.0,40" stroke="#000" stroke-width="4.25" fill="none" />
<path d="M1557.0,37 L1600.0,40" stroke="#000" stroke-width="3.25" fill="none" />
<circle cx="1591.0" cy="29" r="3.5" fill="#000"/>
<circle cx="1579.0" cy="25" r="3" fill="#000"/>
<path d="M1543.5,34 Q1532.0,30 1531.0,44 Q1531.0,56 1540.0,60" stroke="#000" stroke-width="3.45" fill="none" />
<path d="M1543.5,40 Q1536.0,42 1537.0,50 Q1538.0,56 1543.0,57" stroke="#000" stroke-width="2.45" fill="none" />
<line x1="1558.7" y1="40.0" x2="1558.7" y2="64.0" stroke="#000" stroke-width="2.85" />
<line x1="1563.0" y1="42.0" x2="1563.0" y2="64.0" stroke="#000" stroke-width="2.85" />
<line x1="1546.0" y1="40.0" x2="1546.0" y2="62.0" stroke="#000" stroke-width="2.45" />
<line x1="1550.5" y1="40.0" x2="1550.5" y2="64.0" stroke="#000" stroke-width="2.45" />
<rect x="1550.0" y="245.7" width="60.9" height="158.6" rx="4" stroke="#000" stroke-width="3.45" fill="none" />
<line x1="1555.4" y1="248.0" x2="1555.4" y2="402.0" stroke="#444" stroke-width="2.35" />
<line x1="1606.5" y1="248.0" x2="1606.5" y2="402.0" stroke="#444" stroke-width="2.35" />
<line x1="1562.0" y1="231.0" x2="1562.0" y2="245.0" stroke="#666" stroke-width="2.25" />
<line x1="1565.5" y1="231.0" x2="1565.5" y2="245.0" stroke="#666" stroke-width="2.25" />
<line x1="1618.5" y1="117.0" x2="1618.5" y2="232.0" stroke="#000" stroke-width="2.65" />
<line x1="1649.0" y1="117.0" x2="1649.0" y2="240.0" stroke="#000" stroke-width="4.25" />
<path d="M1618.5,119 Q1618.5,115.5 1622.0,115.5 L1647.0,115.5 Q1650.3,115.5 1650.3,119" stroke="#000" stroke-width="3.45" fill="none" />
<path d="M1650.0,185.9 L1667.4,185.9 L1667.4,204.3" stroke="#000" stroke-width="3.45" fill="none" />
<line x1="1622.0" y1="204.0" x2="1622.0" y2="222.0" stroke="#000" stroke-width="2.45" />
<line x1="1629.0" y1="204.0" x2="1629.0" y2="222.0" stroke="#000" stroke-width="2.45" />
<ellipse cx="1617.0" cy="212.0" rx="2.5" ry="8.0" stroke="#000" stroke-width="2.85" fill="none" transform="rotate(0 1617.0 212.0)" />
<line x1="1627.0" y1="232.0" x2="1645.0" y2="262.0" stroke="#000" stroke-width="3.05" />
<line x1="1633.0" y1="232.0" x2="1648.0" y2="255.0" stroke="#000" stroke-width="2.25" />
<line x1="1648.0" y1="240.0" x2="1648.0" y2="295.0" stroke="#000" stroke-width="2.85" />
<line x1="1620.0" y1="232.0" x2="1620.0" y2="360.0" stroke="#000" stroke-width="2.85" />
<line x1="1616.0" y1="245.0" x2="1616.0" y2="365.0" stroke="#333" stroke-width="2.25" />
<ellipse cx="1635.9" cy="281.5" rx="7.0" ry="4.8" stroke="#000" stroke-width="2.85" fill="none" transform="rotate(0 1635.9 281.5)" />
<circle cx="1659.8" cy="310.9" r="9.5" stroke="#000" stroke-width="4.45" fill="none" />
<line x1="1612.5" y1="250.0" x2="1612.5" y2="370.0" stroke="#222" stroke-width="3.85" />
<rect x="1610.0" y="275" width="6" height="12" fill="#000"/>
<rect x="1610.0" y="300" width="6" height="14" fill="#000"/>
<rect x="1610.0" y="330" width="6" height="10" fill="#000"/>
<path d="M1844.0,30 L1830.0,33 L1816.0,28 L1806.0,35 L1790.0,40" stroke="#000" stroke-width="4.25" fill="none" />
<path d="M1839.0,37 L1796.0,40" stroke="#000" stroke-width="3.25" fill="none" />
<circle cx="1805.0" cy="29" r="3.5" fill="#000"/>
<circle cx="1817.0" cy="25" r="3" fill="#000"/>
<path d="M1852.5,34 Q1864.0,30 1865.0,44 Q1865.0,56 1856.0,60" stroke="#000" stroke-width="3.45" fill="none" />
<path d="M1852.5,40 Q1860.0,42 1859.0,50 Q1858.0,56 1853.0,57" stroke="#000" stroke-width="2.45" fill="none" />
<line x1="1837.3" y1="40.0" x2="1837.3" y2="64.0" stroke="#000" stroke-width="2.85" />
<line x1="1833.0" y1="42.0" x2="1833.0" y2="64.0" stroke="#000" stroke-width="2.85" />
<line x1="1850.0" y1="40.0" x2="1850.0" y2="62.0" stroke="#000" stroke-width="2.45" />
<line x1="1845.5" y1="40.0" x2="1845.5" y2="64.0" stroke="#000" stroke-width="2.45" />
<rect x="1785.1" y="245.7" width="60.9" height="158.6" rx="4" stroke="#000" stroke-width="3.45" fill="none" />
<line x1="1840.6" y1="248.0" x2="1840.6" y2="402.0" stroke="#444" stroke-width="2.35" />
<line x1="1789.5" y1="248.0" x2="1789.5" y2="402.0" stroke="#444" stroke-width="2.35" />
<line x1="1834.0" y1="231.0" x2="1834.0" y2="245.0" stroke="#666" stroke-width="2.25" />
<line x1="1830.5" y1="231.0" x2="1830.5" y2="245.0" stroke="#666" stroke-width="2.25" />
<line x1="1777.5" y1="117.0" x2="1777.5" y2="232.0" stroke="#000" stroke-width="2.65" />
<line x1="1747.0" y1="117.0" x2="1747.0" y2="240.0" stroke="#000" stroke-width="4.25" />
<path d="M1777.5,119 Q1777.5,115.5 1774.0,115.5 L1749.0,115.5 Q1745.7,115.5 1745.7,119" stroke="#000" stroke-width="3.45" fill="none" />
<path d="M1746.0,185.9 L1728.6,185.9 L1728.6,204.3" stroke="#000" stroke-width="3.45" fill="none" />
<line x1="1774.0" y1="204.0" x2="1774.0" y2="222.0" stroke="#000" stroke-width="2.45" />
<line x1="1767.0" y1="204.0" x2="1767.0" y2="222.0" stroke="#000" stroke-width="2.45" />
<ellipse cx="1779.0" cy="212.0" rx="2.5" ry="8.0" stroke="#000" stroke-width="2.85" fill="none" transform="rotate(0 1779.0 212.0)" />
<line x1="1769.0" y1="232.0" x2="1751.0" y2="262.0" stroke="#000" stroke-width="3.05" />
<line x1="1763.0" y1="232.0" x2="1748.0" y2="255.0" stroke="#000" stroke-width="2.25" />
<line x1="1748.0" y1="240.0" x2="1748.0" y2="295.0" stroke="#000" stroke-width="2.85" />
<line x1="1776.0" y1="232.0" x2="1776.0" y2="360.0" stroke="#000" stroke-width="2.85" />
<line x1="1780.0" y1="245.0" x2="1780.0" y2="365.0" stroke="#333" stroke-width="2.25" />
<ellipse cx="1760.1" cy="281.5" rx="7.0" ry="4.8" stroke="#000" stroke-width="2.85" fill="none" transform="rotate(0 1760.1 281.5)" />
<circle cx="1736.2" cy="310.9" r="9.5" stroke="#000" stroke-width="4.45" fill="none" />
<line x1="1783.5" y1="250.0" x2="1783.5" y2="370.0" stroke="#222" stroke-width="3.85" />
<rect x="1780.0" y="275" width="6" height="12" fill="#000"/>
<rect x="1780.0" y="300" width="6" height="14" fill="#000"/>
<rect x="1780.0" y="330" width="6" height="10" fill="#000"/>
<rect x="1543.5" y="64.1" width="308.7" height="9.8" rx="0" stroke="#000" stroke-width="3.45" fill="none" />
<line x1="1555.4" y1="80.4" x2="1841.3" y2="80.4" stroke="#000" stroke-width="3.05" />
<line x1="1555.4" y1="85.9" x2="1841.3" y2="85.9" stroke="#000" stroke-width="3.45" />
<line x1="1554.3" y1="74.0" x2="1554.3" y2="231.0" stroke="#000" stroke-width="2.65" />
<line x1="1557.6" y1="74.0" x2="1557.6" y2="224.0" stroke="#000" stroke-width="2.65" />
<line x1="1838.0" y1="74.0" x2="1838.0" y2="224.0" stroke="#000" stroke-width="2.65" />
<line x1="1842.4" y1="74.0" x2="1842.4" y2="231.0" stroke="#000" stroke-width="2.65" />
<line x1="1554.0" y1="222.8" x2="1842.4" y2="222.8" stroke="#000" stroke-width="3.45" />
<line x1="1554.0" y1="227.2" x2="1842.4" y2="227.2" stroke="#000" stroke-width="2.45" />
<line x1="1554.0" y1="230.6" x2="1842.4" y2="230.6" stroke="#000" stroke-width="3.05" />
<line x1="1618.5" y1="204.3" x2="1778.3" y2="204.3" stroke="#000" stroke-width="3.05" />
<line x1="1622.0" y1="217.0" x2="1775.0" y2="217.0" stroke="#000" stroke-width="2.85" />
<line x1="1618.5" y1="295.7" x2="1778.3" y2="295.7" stroke="#000" stroke-width="3.25" />
<line x1="1618.5" y1="326.0" x2="1778.3" y2="326.0" stroke="#444" stroke-width="2.65" />
<line x1="1618.5" y1="330.4" x2="1778.3" y2="330.4" stroke="#000" stroke-width="3.25" />
<line x1="1618.5" y1="357.6" x2="1778.3" y2="357.6" stroke="#000" stroke-width="4.45" />
<rect x="1638.5" y="323" width="5" height="4.5" fill="#000"/>
<rect x="1695.0" y="323" width="5" height="4.5" fill="#000"/>
<rect x="1752.5" y="323" width="5" height="4.5" fill="#000"/>
<rect x="1652.0" y="258.0" width="32.0" height="31.0" rx="5" stroke="#000" stroke-width="3.45" fill="none" />
<path d="M1650,262 Q1660,243 1684,240" stroke="#000" stroke-width="3.85" fill="none" />
<rect x="1691.3" y="237.0" width="14.1" height="9.7" rx="0" stroke="#000" stroke-width="3.85" fill="none" />
<line x1="1683.0" y1="232.0" x2="1683.0" y2="250.0" stroke="#000" stroke-width="3.25" />
<line x1="1712.0" y1="232.0" x2="1712.0" y2="262.0" stroke="#000" stroke-width="3.25" />
<line x1="1717.0" y1="240.0" x2="1717.0" y2="262.0" stroke="#000" stroke-width="2.65" />
<circle cx="1697.5" cy="274.5" r="13.0" stroke="#000" stroke-width="7.5" fill="none" />
<circle cx="1697.5" cy="274.5" r="3.0" stroke="#000" stroke-width="0" fill="#fff" />
<rect x="1695.7" y="266" width="3.6" height="17" fill="#fff" rx="1.8"/>
<line x1="1650.0" y1="291.0" x2="1735.0" y2="291.0" stroke="#000" stroke-width="3.85" />
<line x1="1712.0" y1="262.0" x2="1733.0" y2="262.0" stroke="#000" stroke-width="2.45" />
<line x1="1733.0" y1="240.0" x2="1733.0" y2="291.0" stroke="#000" stroke-width="2.45" />
<line x1="1736.0" y1="276.0" x2="1748.0" y2="276.0" stroke="#000" stroke-width="2.45" />
<line x1="1685.0" y1="232.0" x2="1715.0" y2="232.0" stroke="#000" stroke-width="3.85" />
<path d="M1746.7,359.8 L1746.7,405.4" stroke="#000" stroke-width="2.85" fill="none" />
<line x1="1745.7" y1="405.4" x2="1784.8" y2="405.4" stroke="#000" stroke-width="2.85" />
<line x1="1550.0" y1="404.3" x2="1550.0" y2="473.9" stroke="#000" stroke-width="2.85" />
<line x1="1610.9" y1="404.3" x2="1610.9" y2="473.9" stroke="#000" stroke-width="2.85" />
<line x1="1550.0" y1="472.8" x2="1610.9" y2="472.8" stroke="#000" stroke-width="3.05" />
<path d="M304.9,1380.8 A855.0,855.0 0 0 0 304.9,2368.2" stroke="#000" stroke-width="2.85" fill="none" />
<rect x="178" y="1594" width="22" height="48" fill="#fff"/>
<rect x="178" y="2112" width="22" height="43" fill="#fff"/>
<line x1="148.0" y1="1874.5" x2="378.0" y2="1874.5" stroke="#000" stroke-width="3.85" />
<line x1="378.0" y1="1874.5" x2="786.0" y2="1874.5" stroke="#333" stroke-width="3.45" stroke-dasharray="34 4 8 4"/>
<circle cx="756.1" cy="1874.5" r="5.2" stroke="#000" stroke-width="0" fill="#000" />
<line x1="1020.0" y1="1874.5" x2="1170.0" y2="1874.5" stroke="#333" stroke-width="3.45" stroke-dasharray="46 4 10 4"/>
<line x1="1168.0" y1="1874.5" x2="1279.0" y2="1874.5" stroke="#000" stroke-width="3.85" />
<g>
<line x1="304.9" y1="1380.8" x2="865.0" y2="1774.4" stroke="#000" stroke-width="2.85" />
<line x1="371.0" y1="1720.3" x2="786.0" y2="1720.3" stroke="#000" stroke-width="4.25" />
<line x1="380.0" y1="1730.5" x2="786.0" y2="1730.5" stroke="#000" stroke-width="3.25" />
<rect x="711.5" y="1733" width="75" height="6.2" fill="#555"/>
<rect x="784.6" y="1719.0" width="4.9" height="16.0" rx="0" stroke="#000" stroke-width="2.85" fill="none" />
<line x1="568.4" y1="1730.5" x2="568.4" y2="1875.5" stroke="#000" stroke-width="3.65" />
<line x1="568.4" y1="1753.0" x2="573.0" y2="1753.0" stroke="#000" stroke-width="2.45" />
<path d="M711.5,1732.3 L755.0,1815.7 L756.8,1875.5" stroke="#000" stroke-width="2.65" fill="none" />
<line x1="755.0" y1="1815.7" x2="825.7" y2="1810.2" stroke="#000" stroke-width="2.65" />
<line x1="789.0" y1="1733.5" x2="821.6" y2="1807.4" stroke="#000" stroke-width="3.85" />
<line x1="794.8" y1="1730.6" x2="829.6" y2="1801.6" stroke="#000" stroke-width="3.85" />
<line x1="791.5" y1="1733.0" x2="825.0" y2="1806.0" stroke="#000" stroke-width="2.05" />
<path d="M371.0,1752.2 L347.4,1786.7 L371.0,1803.0" stroke="#000" stroke-width="2.65" fill="none" />
<path d="M371.0,1762.0 L355.0,1786.0 L371.0,1796.5" stroke="#000" stroke-width="3.45" fill="none" />
<line x1="524.9" y1="1534.9" x2="394.5" y2="1719.6" stroke="#000" stroke-width="3.05" stroke-dasharray="26 4"/>
<line x1="531.5" y1="1541.0" x2="409.0" y2="1719.6" stroke="#000" stroke-width="3.65" stroke-dasharray="26 4"/>
<line x1="529.0" y1="1545.0" x2="783.0" y2="1722.5" stroke="#000" stroke-width="3.65" stroke-dasharray="26 4"/>
<line x1="524.9" y1="1547.5" x2="767.7" y2="1719.6" stroke="#000" stroke-width="3.25" stroke-dasharray="26 4"/>
<line x1="519.0" y1="1531.0" x2="533.0" y2="1541.0" stroke="#000" stroke-width="2.85" />
<line x1="680.7" y1="1658.0" x2="635.4" y2="1719.6" stroke="#000" stroke-width="3.05" />
<line x1="760.0" y1="1703.0" x2="856.4" y2="1775.5" stroke="#000" stroke-width="3.45" stroke-dasharray="14 3"/>
<line x1="800.6" y1="1743.6" x2="853.5" y2="1782.0" stroke="#000" stroke-width="3.45" stroke-dasharray="14 3"/>
<rect x="858" y="1769" width="8" height="14" fill="#000"/>
<path d="M826.2,1739 L826.2,1731 Q826.2,1726.3 831,1726.3 L981,1726.3 Q985.6,1726.3 985.6,1731 L985.6,1739" stroke="#000" stroke-width="3.05" fill="none" />
<line x1="828.0" y1="1729.8" x2="984.0" y2="1729.8" stroke="#444" stroke-width="5.6" />
<line x1="827.4" y1="1727.0" x2="827.4" y2="1786.0" stroke="#000" stroke-width="3.85" />
<line x1="826.0" y1="1739.0" x2="1014.6" y2="1739.0" stroke="#000" stroke-width="3.45" />
<line x1="949.4" y1="1739.0" x2="949.4" y2="1797.8" stroke="#000" stroke-width="3.25" />
<line x1="901.4" y1="1741.0" x2="901.4" y2="1795.0" stroke="#000" stroke-width="3.05" />
<line x1="829.0" y1="1795.6" x2="1013.7" y2="1795.6" stroke="#000" stroke-width="4.45" />
<line x1="829.0" y1="1804.3" x2="1013.7" y2="1804.3" stroke="#000" stroke-width="3.85" />
<rect x="828" y="1783.5" width="72" height="6.5" fill="#555"/>
<rect x="865" y="1783" width="36" height="12" fill="#333"/>
<rect x="1004" y="1802" width="9" height="8" fill="#000"/>
<circle cx="890.0" cy="1815.0" r="2.6" stroke="#000" stroke-width="0" fill="#000" />
<path d="M895.4,1761.9 Q920,1768 941,1793" stroke="#000" stroke-width="2.85" fill="none" />
<path d="M898,1770 Q917,1776 933,1795" stroke="#000" stroke-width="2.85" fill="none" stroke-dasharray="10 3"/>
<line x1="835.0" y1="1810.0" x2="835.0" y2="1874.5" stroke="#000" stroke-width="3.05" />
<line x1="852.0" y1="1806.0" x2="846.0" y2="1874.5" stroke="#000" stroke-width="3.05" stroke-dasharray="12 3"/>
<path d="M835,1830 Q850,1845 852,1874" stroke="#000" stroke-width="2.85" fill="none" />
<line x1="833.0" y1="1827.0" x2="853.0" y2="1876.5" stroke="#000" stroke-width="3.85" />
<line x1="853.0" y1="1822.0" x2="834.0" y2="1876.5" stroke="#000" stroke-width="3.45" />
<line x1="833.0" y1="1852.0" x2="851.0" y2="1874.5" stroke="#000" stroke-width="2.85" />
<rect x="852" y="1832" width="24.5" height="43" fill="#000"/>
<rect x="858" y="1848" width="13" height="18.5" fill="#fff"/>
<rect x="858" y="1810" width="10" height="14" fill="#000"/>
<rect x="861" y="1813" width="5" height="5" fill="#fff"/>
<rect x="872" y="1822" width="6" height="12" fill="#000"/>
<line x1="872.0" y1="1806.0" x2="872.0" y2="1834.0" stroke="#000" stroke-width="3.45" />
<line x1="879.0" y1="1808.0" x2="879.0" y2="1850.0" stroke="#000" stroke-width="2.65" />
<path d="M876,1836 L886,1852" stroke="#000" stroke-width="3.25" fill="none" />
<rect x="876.5" y="1853" width="9.5" height="22" fill="#888"/>
<path d="M880,1810 Q888,1835 903,1843" stroke="#000" stroke-width="2.65" fill="none" />
<path d="M896,1874.5 L896,1848 Q897,1826 920,1817" stroke="#000" stroke-width="2.85" fill="none" />
<path d="M909,1874.5 L909,1850 Q910,1836 926,1828" stroke="#000" stroke-width="2.85" fill="none" />
<path d="M925,1850 A30,30 0 0 1 975,1850" stroke="#000" stroke-width="2.65" fill="none" stroke-dasharray="9 3"/>
<path d="M932,1874 A17,14 0 0 1 966,1874" stroke="#000" stroke-width="2.45" fill="none" />
<line x1="1013.7" y1="1739.0" x2="1013.7" y2="1875.5" stroke="#000" stroke-width="3.65" />
<line x1="1016.5" y1="1800.0" x2="1016.5" y2="1875.5" stroke="#555" stroke-width="2.25" />
<line x1="1144.7" y1="1585.6" x2="939.0" y2="1826.8" stroke="#000" stroke-width="2.85" />
<path d="M1144.7,1585.6 A379.7,379.7 0 0 1 1278.0,1874.5" stroke="#000" stroke-width="2.85" fill="none" />
</g>
<g transform="matrix(1,0,0,-1,0,3749.0)">
<line x1="304.9" y1="1380.8" x2="865.0" y2="1774.4" stroke="#000" stroke-width="2.85" />
<line x1="371.0" y1="1720.3" x2="786.0" y2="1720.3" stroke="#000" stroke-width="4.25" />
<line x1="380.0" y1="1730.5" x2="786.0" y2="1730.5" stroke="#000" stroke-width="3.25" />
<rect x="711.5" y="1733" width="75" height="6.2" fill="#555"/>
<rect x="784.6" y="1719.0" width="4.9" height="16.0" rx="0" stroke="#000" stroke-width="2.85" fill="none" />
<line x1="568.4" y1="1730.5" x2="568.4" y2="1875.5" stroke="#000" stroke-width="3.65" />
<line x1="568.4" y1="1753.0" x2="573.0" y2="1753.0" stroke="#000" stroke-width="2.45" />
<path d="M711.5,1732.3 L755.0,1815.7 L756.8,1875.5" stroke="#000" stroke-width="2.65" fill="none" />
<line x1="755.0" y1="1815.7" x2="825.7" y2="1810.2" stroke="#000" stroke-width="2.65" />
<line x1="789.0" y1="1733.5" x2="821.6" y2="1807.4" stroke="#000" stroke-width="3.85" />
<line x1="794.8" y1="1730.6" x2="829.6" y2="1801.6" stroke="#000" stroke-width="3.85" />
<line x1="791.5" y1="1733.0" x2="825.0" y2="1806.0" stroke="#000" stroke-width="2.05" />
<path d="M371.0,1752.2 L347.4,1786.7 L371.0,1803.0" stroke="#000" stroke-width="2.65" fill="none" />
<path d="M371.0,1762.0 L355.0,1786.0 L371.0,1796.5" stroke="#000" stroke-width="3.45" fill="none" />
<line x1="524.9" y1="1534.9" x2="394.5" y2="1719.6" stroke="#000" stroke-width="3.05" stroke-dasharray="26 4"/>
<line x1="531.5" y1="1541.0" x2="409.0" y2="1719.6" stroke="#000" stroke-width="3.65" stroke-dasharray="26 4"/>
<line x1="529.0" y1="1545.0" x2="783.0" y2="1722.5" stroke="#000" stroke-width="3.65" stroke-dasharray="26 4"/>
<line x1="524.9" y1="1547.5" x2="767.7" y2="1719.6" stroke="#000" stroke-width="3.25" stroke-dasharray="26 4"/>
<line x1="519.0" y1="1531.0" x2="533.0" y2="1541.0" stroke="#000" stroke-width="2.85" />
<line x1="680.7" y1="1658.0" x2="635.4" y2="1719.6" stroke="#000" stroke-width="3.05" />
<line x1="760.0" y1="1703.0" x2="856.4" y2="1775.5" stroke="#000" stroke-width="3.45" stroke-dasharray="14 3"/>
<line x1="800.6" y1="1743.6" x2="853.5" y2="1782.0" stroke="#000" stroke-width="3.45" stroke-dasharray="14 3"/>
<rect x="858" y="1769" width="8" height="14" fill="#000"/>
<path d="M826.2,1739 L826.2,1731 Q826.2,1726.3 831,1726.3 L981,1726.3 Q985.6,1726.3 985.6,1731 L985.6,1739" stroke="#000" stroke-width="3.05" fill="none" />
<line x1="828.0" y1="1729.8" x2="984.0" y2="1729.8" stroke="#444" stroke-width="5.6" />
<line x1="827.4" y1="1727.0" x2="827.4" y2="1786.0" stroke="#000" stroke-width="3.85" />
<line x1="826.0" y1="1739.0" x2="1014.6" y2="1739.0" stroke="#000" stroke-width="3.45" />
<line x1="949.4" y1="1739.0" x2="949.4" y2="1797.8" stroke="#000" stroke-width="3.25" />
<line x1="901.4" y1="1741.0" x2="901.4" y2="1795.0" stroke="#000" stroke-width="3.05" />
<line x1="829.0" y1="1795.6" x2="1013.7" y2="1795.6" stroke="#000" stroke-width="4.45" />
<line x1="829.0" y1="1804.3" x2="1013.7" y2="1804.3" stroke="#000" stroke-width="3.85" />
<rect x="828" y="1783.5" width="72" height="6.5" fill="#555"/>
<rect x="865" y="1783" width="36" height="12" fill="#333"/>
<rect x="1004" y="1802" width="9" height="8" fill="#000"/>
<circle cx="890.0" cy="1815.0" r="2.6" stroke="#000" stroke-width="0" fill="#000" />
<path d="M895.4,1761.9 Q920,1768 941,1793" stroke="#000" stroke-width="2.85" fill="none" />
<path d="M898,1770 Q917,1776 933,1795" stroke="#000" stroke-width="2.85" fill="none" stroke-dasharray="10 3"/>
<line x1="835.0" y1="1810.0" x2="835.0" y2="1874.5" stroke="#000" stroke-width="3.05" />
<line x1="852.0" y1="1806.0" x2="846.0" y2="1874.5" stroke="#000" stroke-width="3.05" stroke-dasharray="12 3"/>
<path d="M835,1830 Q850,1845 852,1874" stroke="#000" stroke-width="2.85" fill="none" />
<line x1="833.0" y1="1827.0" x2="853.0" y2="1876.5" stroke="#000" stroke-width="3.85" />
<line x1="853.0" y1="1822.0" x2="834.0" y2="1876.5" stroke="#000" stroke-width="3.45" />
<line x1="833.0" y1="1852.0" x2="851.0" y2="1874.5" stroke="#000" stroke-width="2.85" />
<rect x="852" y="1832" width="24.5" height="43" fill="#000"/>
<rect x="858" y="1848" width="13" height="18.5" fill="#fff"/>
<rect x="858" y="1810" width="10" height="14" fill="#000"/>
<rect x="861" y="1813" width="5" height="5" fill="#fff"/>
<rect x="872" y="1822" width="6" height="12" fill="#000"/>
<line x1="872.0" y1="1806.0" x2="872.0" y2="1834.0" stroke="#000" stroke-width="3.45" />
<line x1="879.0" y1="1808.0" x2="879.0" y2="1850.0" stroke="#000" stroke-width="2.65" />
<path d="M876,1836 L886,1852" stroke="#000" stroke-width="3.25" fill="none" />
<rect x="876.5" y="1853" width="9.5" height="22" fill="#888"/>
<path d="M880,1810 Q888,1835 903,1843" stroke="#000" stroke-width="2.65" fill="none" />
<path d="M896,1874.5 L896,1848 Q897,1826 920,1817" stroke="#000" stroke-width="2.85" fill="none" />
<path d="M909,1874.5 L909,1850 Q910,1836 926,1828" stroke="#000" stroke-width="2.85" fill="none" />
<path d="M925,1850 A30,30 0 0 1 975,1850" stroke="#000" stroke-width="2.65" fill="none" stroke-dasharray="9 3"/>
<path d="M932,1874 A17,14 0 0 1 966,1874" stroke="#000" stroke-width="2.45" fill="none" />
<line x1="1013.7" y1="1739.0" x2="1013.7" y2="1875.5" stroke="#000" stroke-width="3.65" />
<line x1="1016.5" y1="1800.0" x2="1016.5" y2="1875.5" stroke="#555" stroke-width="2.25" />
<line x1="1144.7" y1="1585.6" x2="939.0" y2="1826.8" stroke="#000" stroke-width="2.85" />
<path d="M1144.7,1585.6 A379.7,379.7 0 0 1 1278.0,1874.5" stroke="#000" stroke-width="2.85" fill="none" />
</g>
<line x1="371.0" y1="1718.6" x2="371.0" y2="2030.4" stroke="#000" stroke-width="3.05" />
<line x1="380.0" y1="1720.0" x2="380.0" y2="2029.0" stroke="#000" stroke-width="4.25" />
<line x1="821.5" y1="1808.0" x2="821.5" y2="1941.0" stroke="#000" stroke-width="3.85" />
<line x1="829.0" y1="1808.0" x2="829.0" y2="1941.0" stroke="#000" stroke-width="3.85" />
<rect x="926.7" y="1815.9" width="50.7" height="108.7" rx="11" stroke="#000" stroke-width="3.85" fill="none" />
<rect x="931.0" y="1820.0" width="42.0" height="100.0" rx="9" stroke="#000" stroke-width="2.25" fill="none" />
<rect x="948.4" y="1834.0" width="17.3" height="68.9" rx="0" stroke="#000" stroke-width="3.05" fill="none" />
<rect x="952.0" y="1838.0" width="10.0" height="61.0" rx="0" stroke="#666" stroke-width="2.25" fill="none" />
<rect x="886" y="1852" width="28" height="45.5" fill="#000"/>
<rect x="890.5" y="1859.5" width="13.5" height="30.5" fill="#fff"/>
<line x1="890.5" y1="1859.5" x2="904.0" y2="1890.0" stroke="#000" stroke-width="2.85" />
<line x1="904.0" y1="1859.5" x2="890.5" y2="1890.0" stroke="#000" stroke-width="2.85" />
<line x1="890.5" y1="1874.5" x2="904.0" y2="1874.5" stroke="#000" stroke-width="2.45" />
<circle cx="1001.0" cy="1852.1" r="8.0" stroke="#000" stroke-width="4.45" fill="none" />
<line x1="997.0" y1="1849.0" x2="1005.0" y2="1856.0" stroke="#000" stroke-width="2.45" />
<path d="M990,1888 L1008,1897 L994,1912 Z" stroke="#000" stroke-width="0" fill="#000" />
<circle cx="864.3" cy="1874.5" r="5.0" stroke="#000" stroke-width="4.05" fill="#fff" />
<circle cx="842.3" cy="1874.5" r="3.0" stroke="#000" stroke-width="3.25" fill="#fff" />
<rect x="935" y="1902" width="9" height="12" fill="#000"/>
<rect x="1229" y="1696" width="26" height="42" fill="#fff"/>
<rect x="1229" y="2012" width="28" height="42" fill="#fff"/>
<g>
<path d="M896.5,1874.5 L896.5,1851.9 L896.8,1847.3 L897.5,1842.7 L898.8,1838.4 L900.5,1834.3 L902.6,1830.4 L905.1,1826.8 L908.0,1823.5 L911.1,1820.3 L914.5,1817.4 L918.1,1814.7 L922.0,1812.2 L926.0,1809.9 L930.2,1807.7 L934.6,1805.6 L939.1,1803.7 L943.6,1802.0 L947.5,1800.3 L951.3,1798.6 L955.2,1796.8 L958.9,1795.0 L962.7,1793.2 L966.5,1791.3 L970.3,1789.5 L974.2,1787.7 L978.1,1786.0 L982.1,1784.3 L986.2,1782.7 L990.5,1781.2 L994.9,1779.8 L999.4,1778.5 L1004.1,1777.5 L1008.9,1776.6 L1043.0,1771.1" stroke="#000" stroke-width="2.85" fill="none" />
<path d="M909.5,1874.5 L909.5,1852.1 L909.7,1848.7 L910.2,1845.6 L911.0,1842.7 L912.2,1839.9 L913.7,1837.3 L915.4,1834.7 L917.5,1832.3 L919.9,1829.9 L922.6,1827.6 L925.6,1825.4 L928.8,1823.3 L932.3,1821.3 L936.0,1819.3 L939.9,1817.5 L944.0,1815.8 L948.4,1814.0 L952.7,1812.2 L956.7,1810.4 L960.7,1808.6 L964.6,1806.7 L968.4,1804.9 L972.1,1803.0 L975.9,1801.3 L979.6,1799.5 L983.3,1797.9 L987.0,1796.3 L990.8,1794.9 L994.6,1793.5 L998.5,1792.3 L1002.6,1791.2 L1006.7,1790.2 L1011.1,1789.4 L1045.0,1783.9" stroke="#000" stroke-width="2.85" fill="none" />
<line x1="995.0" y1="1779.0" x2="999.0" y2="1793.0" stroke="#000" stroke-width="2.45" />
<line x1="1003.0" y1="1777.0" x2="1007.0" y2="1791.0" stroke="#000" stroke-width="2.45" />
<g transform="translate(1048.0,1777.0) rotate(-15.0)">
<rect x="-4.6" y="-10.5" width="9.2" height="21" fill="#000"/>
<path d="M0,-10 C-1,-24 5,-38 19,-38.5 L104,-43.5 Q108,-43.5 108,-39 L104.5,8" stroke="#000" stroke-width="5.6" fill="none" stroke-dasharray="2.6 2.4"/>
<path d="M-2.8,-10 C-4,-26 4,-41.3 19,-41.3 L104,-46.3 Q110.8,-46.3 110.8,-39 L107.3,8" stroke="#000" stroke-width="2.15" fill="none" />
<path d="M2.8,-10 C2,-22 7,-35.7 19,-35.7 L104,-40.7 Q105.2,-40.7 105.2,-39 L101.7,8" stroke="#000" stroke-width="2.15" fill="none" />
<line x1="5.0" y1="-5.2" x2="38.0" y2="-5.2" stroke="#000" stroke-width="2.65" />
<line x1="5.0" y1="5.2" x2="38.0" y2="5.2" stroke="#000" stroke-width="2.65" />
<line x1="20.0" y1="-5.0" x2="20.0" y2="5.0" stroke="#000" stroke-width="2.45" />
<line x1="23.0" y1="-5.0" x2="23.0" y2="5.0" stroke="#000" stroke-width="2.45" />
<path d="M39,-17 L57,-21 L60,-6 L60,17 L44,19 L40,4 Z" stroke="#000" stroke-width="4.05" fill="none" />
<line x1="40.0" y1="-4.0" x2="60.0" y2="-6.0" stroke="#000" stroke-width="3.25" />
<line x1="49.0" y1="-19.0" x2="50.0" y2="18.0" stroke="#000" stroke-width="3.25" />
<circle cx="47.0" cy="11.0" r="6.0" stroke="#000" stroke-width="3.85" fill="none" />
<path d="M41,-5 L38,-15 L50,-21 Q58,-24 63,-19 Q69,-13 77,-15 Q90,-19 96,-24 L103,-23" stroke="#000" stroke-width="5.0" fill="none" stroke-linejoin="round"/>
<line x1="58.0" y1="-1.0" x2="97.0" y2="-1.0" stroke="#000" stroke-width="2.85" />
<line x1="58.0" y1="13.0" x2="97.0" y2="13.0" stroke="#000" stroke-width="2.85" />
<line x1="62.0" y1="4.0" x2="95.0" y2="4.0" stroke="#000" stroke-width="2.25" />
<line x1="62.0" y1="8.5" x2="95.0" y2="8.5" stroke="#000" stroke-width="2.25" />
<rect x="97" y="0" width="10" height="13" fill="#000"/>
</g>
</g>
<g transform="matrix(1,0,0,-1,0,3749.0)">
<path d="M896.5,1874.5 L896.5,1851.9 L896.8,1847.3 L897.5,1842.7 L898.8,1838.4 L900.5,1834.3 L902.6,1830.4 L905.1,1826.8 L908.0,1823.5 L911.1,1820.3 L914.5,1817.4 L918.1,1814.7 L922.0,1812.2 L926.0,1809.9 L930.2,1807.7 L934.6,1805.6 L939.1,1803.7 L943.6,1802.0 L947.5,1800.3 L951.3,1798.6 L955.2,1796.8 L958.9,1795.0 L962.7,1793.2 L966.5,1791.3 L970.3,1789.5 L974.2,1787.7 L978.1,1786.0 L982.1,1784.3 L986.2,1782.7 L990.5,1781.2 L994.9,1779.8 L999.4,1778.5 L1004.1,1777.5 L1008.9,1776.6 L1043.0,1771.1" stroke="#000" stroke-width="2.85" fill="none" />
<path d="M909.5,1874.5 L909.5,1852.1 L909.7,1848.7 L910.2,1845.6 L911.0,1842.7 L912.2,1839.9 L913.7,1837.3 L915.4,1834.7 L917.5,1832.3 L919.9,1829.9 L922.6,1827.6 L925.6,1825.4 L928.8,1823.3 L932.3,1821.3 L936.0,1819.3 L939.9,1817.5 L944.0,1815.8 L948.4,1814.0 L952.7,1812.2 L956.7,1810.4 L960.7,1808.6 L964.6,1806.7 L968.4,1804.9 L972.1,1803.0 L975.9,1801.3 L979.6,1799.5 L983.3,1797.9 L987.0,1796.3 L990.8,1794.9 L994.6,1793.5 L998.5,1792.3 L1002.6,1791.2 L1006.7,1790.2 L1011.1,1789.4 L1045.0,1783.9" stroke="#000" stroke-width="2.85" fill="none" />
<line x1="995.0" y1="1779.0" x2="999.0" y2="1793.0" stroke="#000" stroke-width="2.45" />
<line x1="1003.0" y1="1777.0" x2="1007.0" y2="1791.0" stroke="#000" stroke-width="2.45" />
<g transform="translate(1048.0,1777.0) rotate(-15.0)">
<rect x="-4.6" y="-10.5" width="9.2" height="21" fill="#000"/>
<path d="M0,-10 C-1,-24 5,-38 19,-38.5 L104,-43.5 Q108,-43.5 108,-39 L104.5,8" stroke="#000" stroke-width="5.6" fill="none" stroke-dasharray="2.6 2.4"/>
<path d="M-2.8,-10 C-4,-26 4,-41.3 19,-41.3 L104,-46.3 Q110.8,-46.3 110.8,-39 L107.3,8" stroke="#000" stroke-width="2.15" fill="none" />
<path d="M2.8,-10 C2,-22 7,-35.7 19,-35.7 L104,-40.7 Q105.2,-40.7 105.2,-39 L101.7,8" stroke="#000" stroke-width="2.15" fill="none" />
<line x1="5.0" y1="-5.2" x2="38.0" y2="-5.2" stroke="#000" stroke-width="2.65" />
<line x1="5.0" y1="5.2" x2="38.0" y2="5.2" stroke="#000" stroke-width="2.65" />
<line x1="20.0" y1="-5.0" x2="20.0" y2="5.0" stroke="#000" stroke-width="2.45" />
<line x1="23.0" y1="-5.0" x2="23.0" y2="5.0" stroke="#000" stroke-width="2.45" />
<path d="M39,-17 L57,-21 L60,-6 L60,17 L44,19 L40,4 Z" stroke="#000" stroke-width="4.05" fill="none" />
<line x1="40.0" y1="-4.0" x2="60.0" y2="-6.0" stroke="#000" stroke-width="3.25" />
<line x1="49.0" y1="-19.0" x2="50.0" y2="18.0" stroke="#000" stroke-width="3.25" />
<circle cx="47.0" cy="11.0" r="6.0" stroke="#000" stroke-width="3.85" fill="none" />
<path d="M41,-5 L38,-15 L50,-21 Q58,-24 63,-19 Q69,-13 77,-15 Q90,-19 96,-24 L103,-23" stroke="#000" stroke-width="5.0" fill="none" stroke-linejoin="round"/>
<line x1="58.0" y1="-1.0" x2="97.0" y2="-1.0" stroke="#000" stroke-width="2.85" />
<line x1="58.0" y1="13.0" x2="97.0" y2="13.0" stroke="#000" stroke-width="2.85" />
<line x1="62.0" y1="4.0" x2="95.0" y2="4.0" stroke="#000" stroke-width="2.25" />
<line x1="62.0" y1="8.5" x2="95.0" y2="8.5" stroke="#000" stroke-width="2.25" />
<rect x="97" y="0" width="10" height="13" fill="#000"/>
</g>
</g>
<g transform="rotate(-49 892.0 1873.0)">
<g>
<path d="M896.5,1874.5 L896.5,1851.9 L896.8,1847.3 L897.5,1842.7 L898.8,1838.4 L900.5,1834.3 L902.6,1830.4 L905.1,1826.8 L908.0,1823.5 L911.1,1820.3 L914.5,1817.4 L918.1,1814.7 L922.0,1812.2 L926.0,1809.9 L930.2,1807.7 L934.6,1805.6 L939.1,1803.7 L943.6,1802.0 L947.5,1800.3 L951.3,1798.6 L955.2,1796.8 L958.9,1795.0 L962.7,1793.2 L966.5,1791.3 L970.3,1789.5 L974.2,1787.7 L978.1,1786.0 L982.1,1784.3 L986.2,1782.7 L990.5,1781.2 L994.9,1779.8 L999.4,1778.5 L1004.1,1777.5 L1008.9,1776.6 L1043.0,1771.1" stroke="#000" stroke-width="2.85" fill="none" stroke-dasharray="12 3"/>
<path d="M909.5,1874.5 L909.5,1852.1 L909.7,1848.7 L910.2,1845.6 L911.0,1842.7 L912.2,1839.9 L913.7,1837.3 L915.4,1834.7 L917.5,1832.3 L919.9,1829.9 L922.6,1827.6 L925.6,1825.4 L928.8,1823.3 L932.3,1821.3 L936.0,1819.3 L939.9,1817.5 L944.0,1815.8 L948.4,1814.0 L952.7,1812.2 L956.7,1810.4 L960.7,1808.6 L964.6,1806.7 L968.4,1804.9 L972.1,1803.0 L975.9,1801.3 L979.6,1799.5 L983.3,1797.9 L987.0,1796.3 L990.8,1794.9 L994.6,1793.5 L998.5,1792.3 L1002.6,1791.2 L1006.7,1790.2 L1011.1,1789.4 L1045.0,1783.9" stroke="#000" stroke-width="2.85" fill="none" stroke-dasharray="12 3"/>
<line x1="995.0" y1="1779.0" x2="999.0" y2="1793.0" stroke="#000" stroke-width="2.45" />
<line x1="1003.0" y1="1777.0" x2="1007.0" y2="1791.0" stroke="#000" stroke-width="2.45" />
<g transform="translate(1048.0,1777.0) rotate(-15.0)">
<rect x="-4.6" y="-10.5" width="9.2" height="21" fill="#000"/>
<path d="M0,-10 C-1,-24 5,-38 19,-38.5 L104,-43.5 Q108,-43.5 108,-39 L104.5,8" stroke="#000" stroke-width="5.6" fill="none" stroke-dasharray="2.6 2.4"/>
<path d="M-2.8,-10 C-4,-26 4,-41.3 19,-41.3 L104,-46.3 Q110.8,-46.3 110.8,-39 L107.3,8" stroke="#000" stroke-width="2.15" fill="none" />
<path d="M2.8,-10 C2,-22 7,-35.7 19,-35.7 L104,-40.7 Q105.2,-40.7 105.2,-39 L101.7,8" stroke="#000" stroke-width="2.15" fill="none" />
<line x1="5.0" y1="-5.2" x2="38.0" y2="-5.2" stroke="#000" stroke-width="2.65" stroke-dasharray="12 3"/>
<line x1="5.0" y1="5.2" x2="38.0" y2="5.2" stroke="#000" stroke-width="2.65" stroke-dasharray="12 3"/>
<line x1="20.0" y1="-5.0" x2="20.0" y2="5.0" stroke="#000" stroke-width="2.45" />
<line x1="23.0" y1="-5.0" x2="23.0" y2="5.0" stroke="#000" stroke-width="2.45" />
<path d="M39,-17 L57,-21 L60,-6 L60,17 L44,19 L40,4 Z" stroke="#000" stroke-width="4.05" fill="none" />
<line x1="40.0" y1="-4.0" x2="60.0" y2="-6.0" stroke="#000" stroke-width="3.25" />
<line x1="49.0" y1="-19.0" x2="50.0" y2="18.0" stroke="#000" stroke-width="3.25" />
<circle cx="47.0" cy="11.0" r="6.0" stroke="#000" stroke-width="3.85" fill="none" />
<path d="M41,-5 L38,-15 L50,-21 Q58,-24 63,-19 Q69,-13 77,-15 Q90,-19 96,-24 L103,-23" stroke="#000" stroke-width="5.0" fill="none" stroke-linejoin="round"/>
<line x1="58.0" y1="-1.0" x2="97.0" y2="-1.0" stroke="#000" stroke-width="2.85" stroke-dasharray="12 3"/>
<line x1="58.0" y1="13.0" x2="97.0" y2="13.0" stroke="#000" stroke-width="2.85" stroke-dasharray="12 3"/>
<line x1="62.0" y1="4.0" x2="95.0" y2="4.0" stroke="#000" stroke-width="2.25" stroke-dasharray="12 3"/>
<line x1="62.0" y1="8.5" x2="95.0" y2="8.5" stroke="#000" stroke-width="2.25" stroke-dasharray="12 3"/>
<rect x="97" y="0" width="10" height="13" fill="#000"/>
</g>
</g>
<g transform="matrix(1,0,0,-1,0,3749.0)">
<path d="M896.5,1874.5 L896.5,1851.9 L896.8,1847.3 L897.5,1842.7 L898.8,1838.4 L900.5,1834.3 L902.6,1830.4 L905.1,1826.8 L908.0,1823.5 L911.1,1820.3 L914.5,1817.4 L918.1,1814.7 L922.0,1812.2 L926.0,1809.9 L930.2,1807.7 L934.6,1805.6 L939.1,1803.7 L943.6,1802.0 L947.5,1800.3 L951.3,1798.6 L955.2,1796.8 L958.9,1795.0 L962.7,1793.2 L966.5,1791.3 L970.3,1789.5 L974.2,1787.7 L978.1,1786.0 L982.1,1784.3 L986.2,1782.7 L990.5,1781.2 L994.9,1779.8 L999.4,1778.5 L1004.1,1777.5 L1008.9,1776.6 L1043.0,1771.1" stroke="#000" stroke-width="2.85" fill="none" stroke-dasharray="12 3"/>
<path d="M909.5,1874.5 L909.5,1852.1 L909.7,1848.7 L910.2,1845.6 L911.0,1842.7 L912.2,1839.9 L913.7,1837.3 L915.4,1834.7 L917.5,1832.3 L919.9,1829.9 L922.6,1827.6 L925.6,1825.4 L928.8,1823.3 L932.3,1821.3 L936.0,1819.3 L939.9,1817.5 L944.0,1815.8 L948.4,1814.0 L952.7,1812.2 L956.7,1810.4 L960.7,1808.6 L964.6,1806.7 L968.4,1804.9 L972.1,1803.0 L975.9,1801.3 L979.6,1799.5 L983.3,1797.9 L987.0,1796.3 L990.8,1794.9 L994.6,1793.5 L998.5,1792.3 L1002.6,1791.2 L1006.7,1790.2 L1011.1,1789.4 L1045.0,1783.9" stroke="#000" stroke-width="2.85" fill="none" stroke-dasharray="12 3"/>
<line x1="995.0" y1="1779.0" x2="999.0" y2="1793.0" stroke="#000" stroke-width="2.45" />
<line x1="1003.0" y1="1777.0" x2="1007.0" y2="1791.0" stroke="#000" stroke-width="2.45" />
<g transform="translate(1048.0,1777.0) rotate(-15.0)">
<rect x="-4.6" y="-10.5" width="9.2" height="21" fill="#000"/>
<path d="M0,-10 C-1,-24 5,-38 19,-38.5 L104,-43.5 Q108,-43.5 108,-39 L104.5,8" stroke="#000" stroke-width="5.6" fill="none" stroke-dasharray="2.6 2.4"/>
<path d="M-2.8,-10 C-4,-26 4,-41.3 19,-41.3 L104,-46.3 Q110.8,-46.3 110.8,-39 L107.3,8" stroke="#000" stroke-width="2.15" fill="none" />
<path d="M2.8,-10 C2,-22 7,-35.7 19,-35.7 L104,-40.7 Q105.2,-40.7 105.2,-39 L101.7,8" stroke="#000" stroke-width="2.15" fill="none" />
<line x1="5.0" y1="-5.2" x2="38.0" y2="-5.2" stroke="#000" stroke-width="2.65" stroke-dasharray="12 3"/>
<line x1="5.0" y1="5.2" x2="38.0" y2="5.2" stroke="#000" stroke-width="2.65" stroke-dasharray="12 3"/>
<line x1="20.0" y1="-5.0" x2="20.0" y2="5.0" stroke="#000" stroke-width="2.45" />
<line x1="23.0" y1="-5.0" x2="23.0" y2="5.0" stroke="#000" stroke-width="2.45" />
<path d="M39,-17 L57,-21 L60,-6 L60,17 L44,19 L40,4 Z" stroke="#000" stroke-width="4.05" fill="none" />
<line x1="40.0" y1="-4.0" x2="60.0" y2="-6.0" stroke="#000" stroke-width="3.25" />
<line x1="49.0" y1="-19.0" x2="50.0" y2="18.0" stroke="#000" stroke-width="3.25" />
<circle cx="47.0" cy="11.0" r="6.0" stroke="#000" stroke-width="3.85" fill="none" />
<path d="M41,-5 L38,-15 L50,-21 Q58,-24 63,-19 Q69,-13 77,-15 Q90,-19 96,-24 L103,-23" stroke="#000" stroke-width="5.0" fill="none" stroke-linejoin="round"/>
<line x1="58.0" y1="-1.0" x2="97.0" y2="-1.0" stroke="#000" stroke-width="2.85" stroke-dasharray="12 3"/>
<line x1="58.0" y1="13.0" x2="97.0" y2="13.0" stroke="#000" stroke-width="2.85" stroke-dasharray="12 3"/>
<line x1="62.0" y1="4.0" x2="95.0" y2="4.0" stroke="#000" stroke-width="2.25" stroke-dasharray="12 3"/>
<line x1="62.0" y1="8.5" x2="95.0" y2="8.5" stroke="#000" stroke-width="2.25" stroke-dasharray="12 3"/>
<rect x="97" y="0" width="10" height="13" fill="#000"/>
</g>
</g>
</g>
<g transform="rotate(49 892.0 1876.0)">
<g>
<path d="M896.5,1874.5 L896.5,1851.9 L896.8,1847.3 L897.5,1842.7 L898.8,1838.4 L900.5,1834.3 L902.6,1830.4 L905.1,1826.8 L908.0,1823.5 L911.1,1820.3 L914.5,1817.4 L918.1,1814.7 L922.0,1812.2 L926.0,1809.9 L930.2,1807.7 L934.6,1805.6 L939.1,1803.7 L943.6,1802.0 L947.5,1800.3 L951.3,1798.6 L955.2,1796.8 L958.9,1795.0 L962.7,1793.2 L966.5,1791.3 L970.3,1789.5 L974.2,1787.7 L978.1,1786.0 L982.1,1784.3 L986.2,1782.7 L990.5,1781.2 L994.9,1779.8 L999.4,1778.5 L1004.1,1777.5 L1008.9,1776.6 L1043.0,1771.1" stroke="#000" stroke-width="2.85" fill="none" stroke-dasharray="12 3"/>
<path d="M909.5,1874.5 L909.5,1852.1 L909.7,1848.7 L910.2,1845.6 L911.0,1842.7 L912.2,1839.9 L913.7,1837.3 L915.4,1834.7 L917.5,1832.3 L919.9,1829.9 L922.6,1827.6 L925.6,1825.4 L928.8,1823.3 L932.3,1821.3 L936.0,1819.3 L939.9,1817.5 L944.0,1815.8 L948.4,1814.0 L952.7,1812.2 L956.7,1810.4 L960.7,1808.6 L964.6,1806.7 L968.4,1804.9 L972.1,1803.0 L975.9,1801.3 L979.6,1799.5 L983.3,1797.9 L987.0,1796.3 L990.8,1794.9 L994.6,1793.5 L998.5,1792.3 L1002.6,1791.2 L1006.7,1790.2 L1011.1,1789.4 L1045.0,1783.9" stroke="#000" stroke-width="2.85" fill="none" stroke-dasharray="12 3"/>
<line x1="995.0" y1="1779.0" x2="999.0" y2="1793.0" stroke="#000" stroke-width="2.45" />
<line x1="1003.0" y1="1777.0" x2="1007.0" y2="1791.0" stroke="#000" stroke-width="2.45" />
<g transform="translate(1048.0,1777.0) rotate(-15.0)">
<rect x="-4.6" y="-10.5" width="9.2" height="21" fill="#000"/>
<path d="M0,-10 C-1,-24 5,-38 19,-38.5 L104,-43.5 Q108,-43.5 108,-39 L104.5,8" stroke="#000" stroke-width="5.6" fill="none" stroke-dasharray="2.6 2.4"/>
<path d="M-2.8,-10 C-4,-26 4,-41.3 19,-41.3 L104,-46.3 Q110.8,-46.3 110.8,-39 L107.3,8" stroke="#000" stroke-width="2.15" fill="none" />
<path d="M2.8,-10 C2,-22 7,-35.7 19,-35.7 L104,-40.7 Q105.2,-40.7 105.2,-39 L101.7,8" stroke="#000" stroke-width="2.15" fill="none" />
<line x1="5.0" y1="-5.2" x2="38.0" y2="-5.2" stroke="#000" stroke-width="2.65" stroke-dasharray="12 3"/>
<line x1="5.0" y1="5.2" x2="38.0" y2="5.2" stroke="#000" stroke-width="2.65" stroke-dasharray="12 3"/>
<line x1="20.0" y1="-5.0" x2="20.0" y2="5.0" stroke="#000" stroke-width="2.45" />
<line x1="23.0" y1="-5.0" x2="23.0" y2="5.0" stroke="#000" stroke-width="2.45" />
<path d="M39,-17 L57,-21 L60,-6 L60,17 L44,19 L40,4 Z" stroke="#000" stroke-width="4.05" fill="none" />
<line x1="40.0" y1="-4.0" x2="60.0" y2="-6.0" stroke="#000" stroke-width="3.25" />
<line x1="49.0" y1="-19.0" x2="50.0" y2="18.0" stroke="#000" stroke-width="3.25" />
<circle cx="47.0" cy="11.0" r="6.0" stroke="#000" stroke-width="3.85" fill="none" />
<path d="M41,-5 L38,-15 L50,-21 Q58,-24 63,-19 Q69,-13 77,-15 Q90,-19 96,-24 L103,-23" stroke="#000" stroke-width="5.0" fill="none" stroke-linejoin="round"/>
<line x1="58.0" y1="-1.0" x2="97.0" y2="-1.0" stroke="#000" stroke-width="2.85" stroke-dasharray="12 3"/>
<line x1="58.0" y1="13.0" x2="97.0" y2="13.0" stroke="#000" stroke-width="2.85" stroke-dasharray="12 3"/>
<line x1="62.0" y1="4.0" x2="95.0" y2="4.0" stroke="#000" stroke-width="2.25" stroke-dasharray="12 3"/>
<line x1="62.0" y1="8.5" x2="95.0" y2="8.5" stroke="#000" stroke-width="2.25" stroke-dasharray="12 3"/>
<rect x="97" y="0" width="10" height="13" fill="#000"/>
</g>
</g>
<g transform="matrix(1,0,0,-1,0,3749.0)">
<path d="M896.5,1874.5 L896.5,1851.9 L896.8,1847.3 L897.5,1842.7 L898.8,1838.4 L900.5,1834.3 L902.6,1830.4 L905.1,1826.8 L908.0,1823.5 L911.1,1820.3 L914.5,1817.4 L918.1,1814.7 L922.0,1812.2 L926.0,1809.9 L930.2,1807.7 L934.6,1805.6 L939.1,1803.7 L943.6,1802.0 L947.5,1800.3 L951.3,1798.6 L955.2,1796.8 L958.9,1795.0 L962.7,1793.2 L966.5,1791.3 L970.3,1789.5 L974.2,1787.7 L978.1,1786.0 L982.1,1784.3 L986.2,1782.7 L990.5,1781.2 L994.9,1779.8 L999.4,1778.5 L1004.1,1777.5 L1008.9,1776.6 L1043.0,1771.1" stroke="#000" stroke-width="2.85" fill="none" stroke-dasharray="12 3"/>
<path d="M909.5,1874.5 L909.5,1852.1 L909.7,1848.7 L910.2,1845.6 L911.0,1842.7 L912.2,1839.9 L913.7,1837.3 L915.4,1834.7 L917.5,1832.3 L919.9,1829.9 L922.6,1827.6 L925.6,1825.4 L928.8,1823.3 L932.3,1821.3 L936.0,1819.3 L939.9,1817.5 L944.0,1815.8 L948.4,1814.0 L952.7,1812.2 L956.7,1810.4 L960.7,1808.6 L964.6,1806.7 L968.4,1804.9 L972.1,1803.0 L975.9,1801.3 L979.6,1799.5 L983.3,1797.9 L987.0,1796.3 L990.8,1794.9 L994.6,1793.5 L998.5,1792.3 L1002.6,1791.2 L1006.7,1790.2 L1011.1,1789.4 L1045.0,1783.9" stroke="#000" stroke-width="2.85" fill="none" stroke-dasharray="12 3"/>
<line x1="995.0" y1="1779.0" x2="999.0" y2="1793.0" stroke="#000" stroke-width="2.45" />
<line x1="1003.0" y1="1777.0" x2="1007.0" y2="1791.0" stroke="#000" stroke-width="2.45" />
<g transform="translate(1048.0,1777.0) rotate(-15.0)">
<rect x="-4.6" y="-10.5" width="9.2" height="21" fill="#000"/>
<path d="M0,-10 C-1,-24 5,-38 19,-38.5 L104,-43.5 Q108,-43.5 108,-39 L104.5,8" stroke="#000" stroke-width="5.6" fill="none" stroke-dasharray="2.6 2.4"/>
<path d="M-2.8,-10 C-4,-26 4,-41.3 19,-41.3 L104,-46.3 Q110.8,-46.3 110.8,-39 L107.3,8" stroke="#000" stroke-width="2.15" fill="none" />
<path d="M2.8,-10 C2,-22 7,-35.7 19,-35.7 L104,-40.7 Q105.2,-40.7 105.2,-39 L101.7,8" stroke="#000" stroke-width="2.15" fill="none" />
<line x1="5.0" y1="-5.2" x2="38.0" y2="-5.2" stroke="#000" stroke-width="2.65" stroke-dasharray="12 3"/>
<line x1="5.0" y1="5.2" x2="38.0" y2="5.2" stroke="#000" stroke-width="2.65" stroke-dasharray="12 3"/>
<line x1="20.0" y1="-5.0" x2="20.0" y2="5.0" stroke="#000" stroke-width="2.45" />
<line x1="23.0" y1="-5.0" x2="23.0" y2="5.0" stroke="#000" stroke-width="2.45" />
<path d="M39,-17 L57,-21 L60,-6 L60,17 L44,19 L40,4 Z" stroke="#000" stroke-width="4.05" fill="none" />
<line x1="40.0" y1="-4.0" x2="60.0" y2="-6.0" stroke="#000" stroke-width="3.25" />
<line x1="49.0" y1="-19.0" x2="50.0" y2="18.0" stroke="#000" stroke-width="3.25" />
<circle cx="47.0" cy="11.0" r="6.0" stroke="#000" stroke-width="3.85" fill="none" />
<path d="M41,-5 L38,-15 L50,-21 Q58,-24 63,-19 Q69,-13 77,-15 Q90,-19 96,-24 L103,-23" stroke="#000" stroke-width="5.0" fill="none" stroke-linejoin="round"/>
<line x1="58.0" y1="-1.0" x2="97.0" y2="-1.0" stroke="#000" stroke-width="2.85" stroke-dasharray="12 3"/>
<line x1="58.0" y1="13.0" x2="97.0" y2="13.0" stroke="#000" stroke-width="2.85" stroke-dasharray="12 3"/>
<line x1="62.0" y1="4.0" x2="95.0" y2="4.0" stroke="#000" stroke-width="2.25" stroke-dasharray="12 3"/>
<line x1="62.0" y1="8.5" x2="95.0" y2="8.5" stroke="#000" stroke-width="2.25" stroke-dasharray="12 3"/>
<rect x="97" y="0" width="10" height="13" fill="#000"/>
</g>
</g>
</g>
</g>
<g style="filter:blur(1px)">
<text transform="translate(753.0,444.0) scale(0.5001,1)" font-family="Liberation Serif" font-size="59.54" font-weight="bold" text-anchor="middle" stroke="#000" stroke-width="0.8">A</text>
<text transform="translate(759.6,548.7) scale(0.5414,1)" font-family="Liberation Serif" font-size="59.54" font-weight="bold" text-anchor="middle" stroke="#000" stroke-width="0.8">B</text>
<text transform="translate(1262.7,214.5) rotate(-90) scale(0.5001,1)" font-family="Liberation Serif" font-size="59.54" font-weight="bold" text-anchor="middle" stroke="#000" stroke-width="0.8">C</text>
<text transform="translate(284.3,869.5) rotate(-90) scale(0.4641,1)" font-family="Liberation Serif" font-size="59.54" font-weight="bold" text-anchor="middle" stroke="#000" stroke-width="0.8">G</text>
<text transform="translate(442.7,1236.0) rotate(-90) scale(0.4641,1)" font-family="Liberation Serif" font-size="59.54" font-weight="bold" text-anchor="middle" stroke="#000" stroke-width="0.8">H</text>
<text transform="translate(666.3,889.5) scale(0.6476,1)" font-family="Liberation Serif" font-size="59.54" font-weight="bold" text-anchor="middle" stroke="#000" stroke-width="0.8">I</text>
<text transform="translate(1700.0,550.0) scale(0.5001,1)" font-family="Liberation Serif" font-size="59.54" font-weight="bold" text-anchor="middle" stroke="#000" stroke-width="0.8">D</text>
<text transform="translate(1745.5,379.5) rotate(-90) scale(0.4636,1)" font-family="Liberation Serif" font-size="56.49" font-weight="bold" text-anchor="middle" stroke="#000" stroke-width="0.8">F</text>
<text transform="translate(1591.0,472.8) scale(0.5414,1)" font-family="Liberation Serif" font-size="59.54" font-weight="bold" text-anchor="middle" stroke="#000" stroke-width="0.8">E</text>
<text transform="translate(189.0,1640.0) scale(0.5861,1)" font-family="Liberation Serif" font-size="58.02" font-weight="bold" text-anchor="middle" stroke="#000" stroke-width="0.8">J</text>
<text transform="translate(189.0,2152.5) scale(0.3988,1)" font-family="Liberation Serif" font-size="58.02" font-weight="bold" text-anchor="middle" stroke="#000" stroke-width="0.8">K</text>
<text transform="translate(1241.0,1736.8) scale(0.5414,1)" font-family="Liberation Serif" font-size="59.54" font-weight="bold" text-anchor="middle" stroke="#000" stroke-width="0.8">L</text>
<text transform="translate(1242.0,2052.7) scale(0.3914,1)" font-family="Liberation Serif" font-size="59.54" font-weight="bold" text-anchor="middle" stroke="#000" stroke-width="2.2">M</text>
</g>
</svg>
</body></html>
